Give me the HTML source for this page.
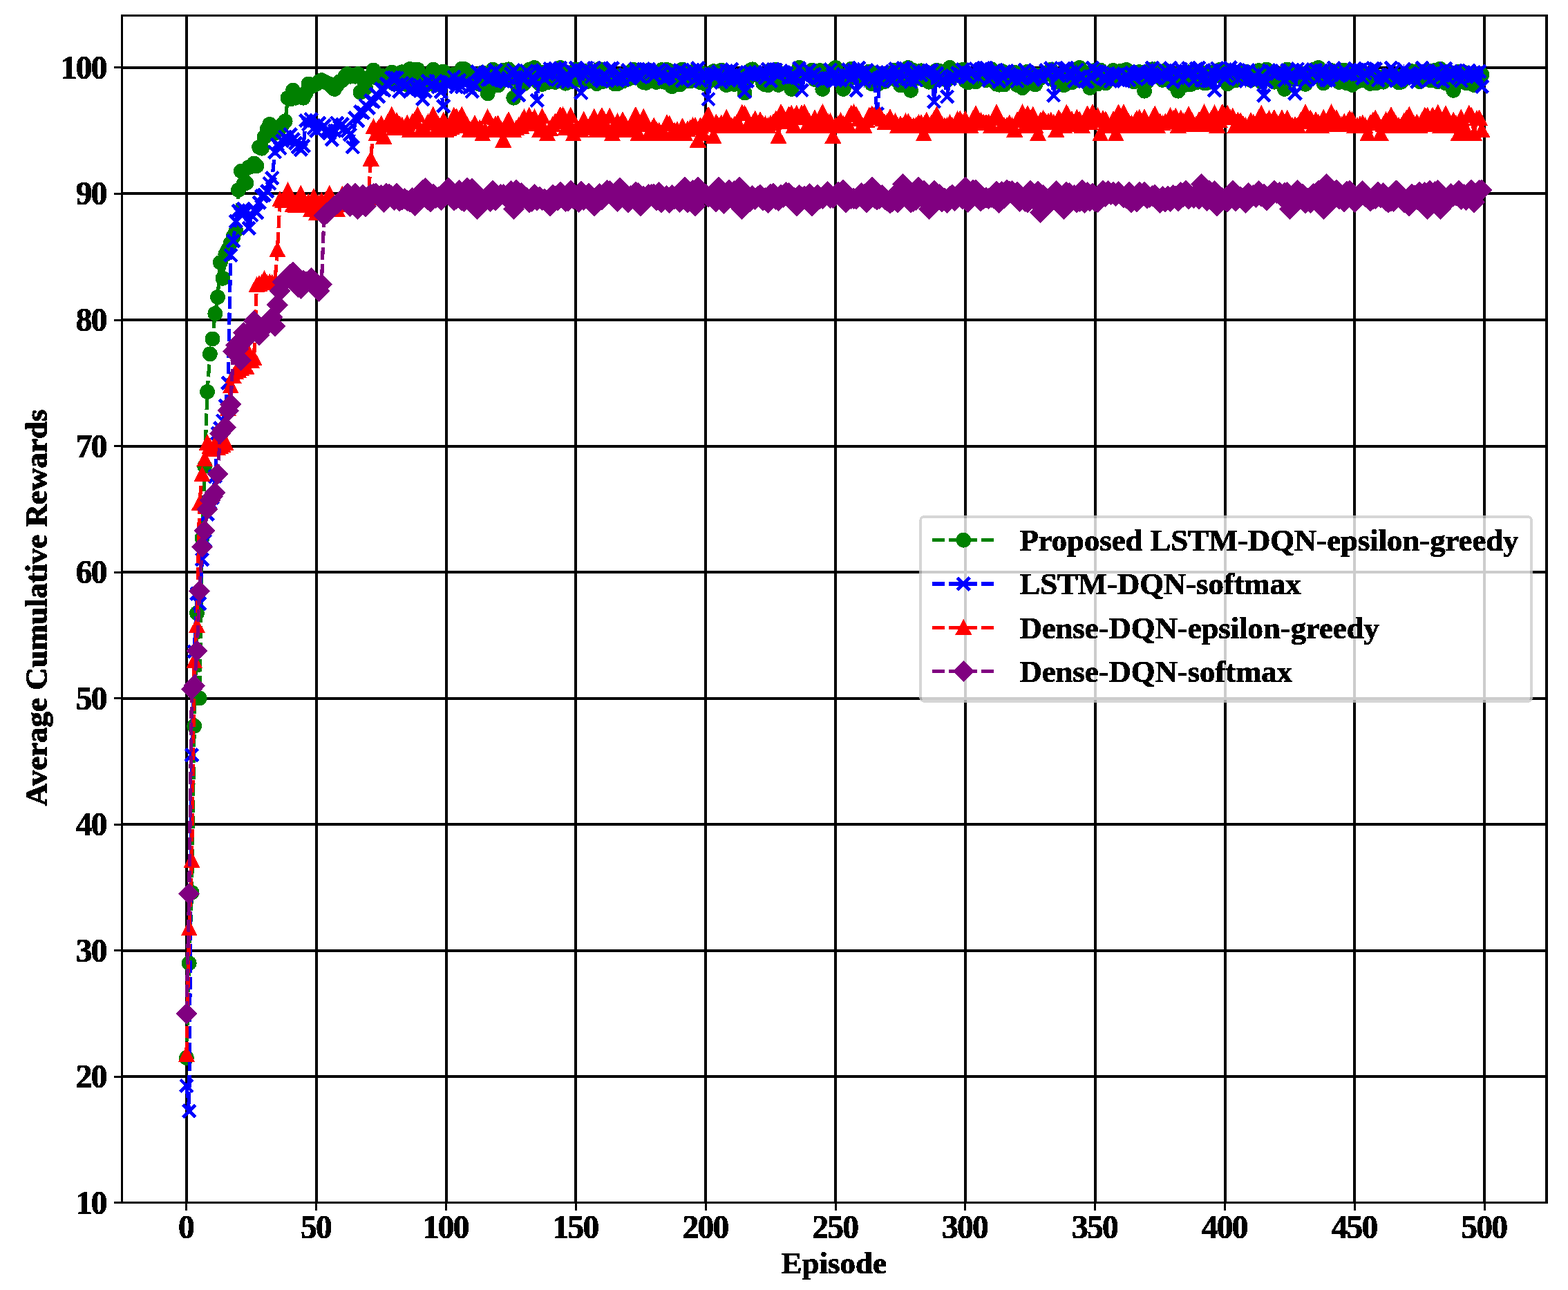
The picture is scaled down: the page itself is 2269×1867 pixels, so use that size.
<!DOCTYPE html>
<html lang="en"><head><meta charset="utf-8"><title>Average Cumulative Rewards vs Episode</title>
<style>html,body{margin:0;padding:0;background:#fff}body{width:2269px;height:1867px;overflow:hidden}svg{display:block}text{font-family:'Liberation Serif','DejaVu Serif',serif;font-weight:bold;fill:#000}</style></head><body>
<svg width="2269" height="1867" viewBox="0 0 2269 1867" shape-rendering="crispEdges">
<rect width="2269" height="1867" fill="#fff"/>
<defs>
<circle id="mo" r="10.9" fill="#008000"/>
<path id="mx" d="M-9-9L9 9M-9 9L9-9" stroke="#0000ff" stroke-width="4.8" fill="none"/>
<path id="mt" d="M0-12.6L12.1 10.7H-12.1Z" fill="#ff0000"/>
<path id="md" d="M0-15.6L15.6 0L0 15.6L-15.6 0Z" fill="#800080"/>
<filter id="bin" x="-5%" y="-5%" width="110%" height="110%" color-interpolation-filters="sRGB"><feComponentTransfer><feFuncA type="discrete" tableValues="0 1 1"/></feComponentTransfer></filter>
<clipPath id="ax"><rect x="176.5" y="22.5" width="2061.5" height="1718.0"/></clipPath>
</defs>
<g shape-rendering="crispEdges" fill="#000"><rect x="268" y="22" width="4" height="1719"/><rect x="268" y="1741" width="3" height="11"/><rect x="456" y="22" width="4" height="1719"/><rect x="456" y="1741" width="3" height="11"/><rect x="644" y="22" width="4" height="1719"/><rect x="644" y="1741" width="3" height="11"/><rect x="831" y="22" width="4" height="1719"/><rect x="832" y="1741" width="3" height="11"/><rect x="1019" y="22" width="4" height="1719"/><rect x="1020" y="1741" width="3" height="11"/><rect x="1207" y="22" width="4" height="1719"/><rect x="1208" y="1741" width="3" height="11"/><rect x="1395" y="22" width="4" height="1719"/><rect x="1395" y="1741" width="3" height="11"/><rect x="1583" y="22" width="4" height="1719"/><rect x="1583" y="1741" width="3" height="11"/><rect x="1771" y="22" width="4" height="1719"/><rect x="1771" y="1741" width="3" height="11"/><rect x="1958" y="22" width="4" height="1719"/><rect x="1959" y="1741" width="3" height="11"/><rect x="2146" y="22" width="4" height="1719"/><rect x="2147" y="1741" width="3" height="11"/><rect x="165" y="1739" width="11" height="3"/><rect x="165" y="1557" width="11" height="3"/><rect x="176" y="1556" width="2063" height="4"/><rect x="165" y="1374" width="11" height="3"/><rect x="176" y="1374" width="2063" height="4"/><rect x="165" y="1192" width="11" height="3"/><rect x="176" y="1191" width="2063" height="4"/><rect x="165" y="1009" width="11" height="3"/><rect x="176" y="1009" width="2063" height="4"/><rect x="165" y="827" width="11" height="3"/><rect x="176" y="826" width="2063" height="4"/><rect x="165" y="644" width="11" height="3"/><rect x="176" y="644" width="2063" height="4"/><rect x="165" y="462" width="11" height="3"/><rect x="176" y="461" width="2063" height="4"/><rect x="165" y="279" width="11" height="3"/><rect x="176" y="278" width="2063" height="4"/><rect x="165" y="96" width="11" height="3"/><rect x="176" y="96" width="2063" height="4"/></g>
<g clip-path="url(#ax)" shape-rendering="crispEdges">
<polyline fill="none" stroke="#008000" stroke-width="5.2" stroke-dasharray="17.9 5.8" points="269.9,1530.9 273.7,1394 277.5,1291.8 281.2,1050.8 285,887.4 288.7,1010.6 292.5,778.8 296.2,674.8 300,567.1 303.8,512.3 307.5,490.4 311.3,453.9 315,430.1 318.8,379.9 322.5,402.8 326.3,368.1 330.1,360.8 333.8,351.6 337.6,342.5 341.3,334.3 345.1,275 348.8,247.6 352.6,265.8 356.3,264.9 360.1,242.1 363.9,240.3 367.6,236.6 371.4,240.3 375.1,212.9 378.9,214.7 382.6,198.3 386.4,187.3 390.2,180 393.9,185.5 397.7,192.8 401.4,189.2 405.2,185.5 408.9,180 412.7,175.5 416.5,141.7 420.2,143.5 424,130.8 427.7,141.7 431.5,138.1 435.2,139.9 439,141.7 442.7,134.4 446.5,121.6 450.3,125.3 454,123.5 457.8,121.6 461.5,118 465.3,116.2 469,118 472.8,119.8 476.6,121.6 480.3,125.3 484.1,128.9 487.8,123.5 491.6,118 495.3,116.2 499.1,110.7 502.9,107 506.6,110.7 510.4,108.9 514.1,110.7 517.9,107 521.6,133.5 525.4,130.8 529.1,127.1 532.9,112.7 536.7,110.1 540.4,101.6 544.2,112.3 547.9,111.4 551.7,109.6 555.4,119.1 559.2,111.2 563,108.5 566.7,104.7 570.5,121.3 574.2,116.3 578,121.3 581.7,104.3 585.5,107 589.3,122.5 593,100.1 596.8,100.6 600.5,107.9 604.3,100.6 608,119.8 611.8,123.1 615.5,110.9 619.3,122 623.1,118.9 626.8,100.6 630.6,122.7 634.3,112.5 638.1,113.1 641.8,103.4 645.6,111.2 649.4,108.3 653.1,111.6 656.9,107.8 660.6,112.7 664.4,116.9 668.1,99.7 671.9,99.9 675.7,103.6 679.4,106.7 683.2,116 686.9,118 690.7,116.5 694.4,121.8 698.2,105.2 701.9,114 705.7,135.3 709.5,114.3 713.2,100.6 717,103.4 720.7,123.5 724.5,118.5 728.2,101.9 732,112.3 735.8,100.3 739.5,114 743.3,141.7 747,108.5 750.8,105 754.5,117.1 758.3,121.4 762.1,115.6 765.8,100.6 769.6,105.4 773.3,97.9 777.1,117.6 780.8,121.1 784.6,122 788.3,104.5 792.1,119.3 795.9,110.1 799.6,112.9 803.4,118.9 807.1,106.1 810.9,97.9 814.6,108.1 818.4,120.7 822.2,113.4 825.9,118.3 829.7,117.1 833.4,100.5 837.2,104.5 840.9,116.2 844.7,102.5 848.5,118.5 852.2,114.1 856,103.2 859.7,108.3 863.5,121.1 867.2,99.9 871,118.3 874.7,117.3 878.5,105.2 882.3,115.6 886,116.3 889.8,121.6 893.5,121.3 897.3,109.6 901,117.6 904.8,109.2 908.6,114.7 912.3,112.7 916.1,100.6 919.8,112 923.6,109.8 927.3,102.8 931.1,119.1 934.9,119.8 938.6,101.9 942.4,104.1 946.1,117.6 949.9,118.9 953.6,105.9 957.4,101.2 961.1,118.7 964.9,100.8 968.7,102.5 972.4,125.3 976.2,113.4 979.9,121.1 983.7,122.5 987.4,100.6 991.2,117.8 995,106.7 998.7,117.4 1002.5,103.9 1006.2,109.2 1010,116.5 1013.7,119.3 1017.5,106.3 1021.2,121.8 1025,118 1028.8,110.1 1032.5,103.2 1036.3,108.9 1040,116.9 1043.8,101.7 1047.5,118.5 1051.3,123.1 1055.1,117.1 1058.8,112.9 1062.6,122 1066.3,119.3 1070.1,114.7 1073.8,109.9 1077.6,134.4 1081.4,114.9 1085.1,102.3 1088.9,100.3 1092.6,107.9 1096.4,107 1100.1,109.6 1103.9,120.2 1107.6,122.5 1111.4,123.1 1115.2,101.9 1118.9,106.8 1122.7,100.6 1126.4,122.9 1130.2,108.3 1133.9,112 1137.7,106.1 1141.5,116 1145.2,128.9 1149,121.6 1152.7,110.5 1156.5,97.9 1160.2,102.1 1164,105.9 1167.8,106.8 1171.5,104.7 1175.3,101.7 1179,115.1 1182.8,107.2 1186.5,102.1 1190.3,128.9 1194,113.6 1197.8,104.7 1201.6,103 1205.3,109.9 1209.1,97.9 1212.8,114.3 1216.6,109.6 1220.3,128.9 1224.1,121.6 1227.9,108.3 1231.6,99.9 1235.4,102.6 1239.1,106.1 1242.9,114.3 1246.6,105.9 1250.4,109.6 1254.2,113.1 1257.9,103.6 1261.7,121.4 1265.4,105.6 1269.2,122.7 1272.9,109.2 1276.7,112 1280.4,118 1284.2,106.8 1288,111.6 1291.7,108.9 1295.5,101.6 1299.2,117.4 1303,123.3 1306.7,116.3 1310.5,107.4 1314.3,97.9 1318,130.8 1321.8,101.9 1325.5,107.8 1329.3,113.1 1333,102.3 1336.8,115.6 1340.6,107.6 1344.3,118.7 1348.1,113.2 1351.8,104.3 1355.6,101.7 1359.3,102.6 1363.1,114.3 1366.8,109.6 1370.6,116 1374.4,97.9 1378.1,111.6 1381.9,103.6 1385.6,103.4 1389.4,106.7 1393.1,100.8 1396.9,116.9 1400.7,119.4 1404.4,112.7 1408.2,116.9 1411.9,118.3 1415.7,113.6 1419.4,108.7 1423.2,111.8 1427,116 1430.7,103.6 1434.5,100.1 1438.2,112.7 1442,121.6 1445.7,122.7 1449.5,102.8 1453.2,122.5 1457,106.7 1460.8,109.9 1464.5,116.2 1468.3,104.7 1472,123.1 1475.8,120.2 1479.5,127.1 1483.3,122.9 1487.1,103.7 1490.8,117.8 1494.6,120.2 1498.3,122.4 1502.1,108.5 1505.8,112.9 1509.6,108.5 1513.4,107.9 1517.1,104.3 1520.9,100.6 1524.6,107.2 1528.4,118.7 1532.1,112.1 1535.9,119.3 1539.6,123.3 1543.4,112.3 1547.2,106.5 1550.9,119.3 1554.7,117.1 1558.4,115.2 1562.2,97.9 1565.9,111 1569.7,108.9 1573.5,105.6 1577.2,127.1 1581,104.7 1584.7,101.9 1588.5,121.4 1592.2,101.4 1596,106.3 1599.8,120.4 1603.5,112.7 1607.3,108.7 1611,101.9 1614.8,114.5 1618.5,109.9 1622.3,102.6 1626,104.5 1629.8,101 1633.6,112.5 1637.3,107.9 1641.1,118.5 1644.8,106.3 1648.6,104.1 1652.3,108.3 1656.1,131.7 1659.9,118.3 1663.6,102.1 1667.4,100.3 1671.1,100.3 1674.9,110.7 1678.6,104.7 1682.4,115.8 1686.2,101.9 1689.9,103.2 1693.7,115.2 1697.4,121.4 1701.2,113.1 1704.9,131.7 1708.7,105.2 1712.4,112 1716.2,122.7 1720,104.3 1723.7,122 1727.5,104.5 1731.2,119.4 1735,115.4 1738.7,104.8 1742.5,120.2 1746.3,120 1750,111.2 1753.8,106.3 1757.5,103.6 1761.3,107 1765,101 1768.8,111.8 1772.5,101 1776.3,121.4 1780.1,118.2 1783.8,111 1787.6,116.5 1791.3,106.1 1795.1,108.3 1798.8,111 1802.6,103.4 1806.4,110.1 1810.1,116 1813.9,114.3 1817.6,103.4 1821.4,102.1 1825.1,118.5 1828.9,103.2 1832.7,100.5 1836.4,111 1840.2,109.9 1843.9,118.7 1847.7,110.7 1851.4,111.6 1855.2,109 1858.9,128.9 1862.7,100.5 1866.5,111.2 1870.2,114 1874,104.5 1877.7,110.1 1881.5,111.8 1885.2,107 1889,121.8 1892.8,110.7 1896.5,113.6 1900.3,100.8 1904,101.6 1907.8,97.9 1911.5,112.1 1915.3,120.4 1919.1,113.2 1922.8,104.1 1926.6,102.1 1930.3,112.1 1934.1,116 1937.8,118.9 1941.6,108.9 1945.3,101.6 1949.1,120.4 1952.9,105 1956.6,122.9 1960.4,118.9 1964.1,118 1967.9,107.2 1971.6,115.8 1975.4,115.1 1979.2,108.7 1982.9,120.9 1986.7,106.1 1990.4,120.5 1994.2,111.4 1997.9,117.4 2001.7,118.7 2005.5,110.9 2009.2,113.1 2013,114.5 2016.7,113.6 2020.5,110.9 2024.2,119.6 2028,118.5 2031.7,108.5 2035.5,108.3 2039.3,110.9 2043,103.2 2046.8,108.9 2050.5,103.2 2054.3,118 2058,105.9 2061.8,104.3 2065.6,102.1 2069.3,116 2073.1,116 2076.8,101.6 2080.6,118.3 2084.3,99.7 2088.1,102.5 2091.9,120.4 2095.6,117.8 2099.4,106.3 2103.1,130.8 2106.9,121.1 2110.6,103.7 2114.4,113.4 2118.1,104.7 2121.9,120.5 2125.7,114 2129.4,107.2 2133.2,123.1 2136.9,118.7 2140.7,107.2 2144.4,107.9"/>
<use href="#mo" x="269.9" y="1530.9"/><use href="#mo" x="273.7" y="1394"/><use href="#mo" x="277.5" y="1291.8"/><use href="#mo" x="281.2" y="1050.8"/><use href="#mo" x="285" y="887.4"/><use href="#mo" x="288.7" y="1010.6"/><use href="#mo" x="292.5" y="778.8"/><use href="#mo" x="296.2" y="674.8"/><use href="#mo" x="300" y="567.1"/><use href="#mo" x="303.8" y="512.3"/><use href="#mo" x="307.5" y="490.4"/><use href="#mo" x="311.3" y="453.9"/><use href="#mo" x="315" y="430.1"/><use href="#mo" x="318.8" y="379.9"/><use href="#mo" x="322.5" y="402.8"/><use href="#mo" x="326.3" y="368.1"/><use href="#mo" x="330.1" y="360.8"/><use href="#mo" x="333.8" y="351.6"/><use href="#mo" x="337.6" y="342.5"/><use href="#mo" x="341.3" y="334.3"/><use href="#mo" x="345.1" y="275"/><use href="#mo" x="348.8" y="247.6"/><use href="#mo" x="352.6" y="265.8"/><use href="#mo" x="356.3" y="264.9"/><use href="#mo" x="360.1" y="242.1"/><use href="#mo" x="363.9" y="240.3"/><use href="#mo" x="367.6" y="236.6"/><use href="#mo" x="371.4" y="240.3"/><use href="#mo" x="375.1" y="212.9"/><use href="#mo" x="378.9" y="214.7"/><use href="#mo" x="382.6" y="198.3"/><use href="#mo" x="386.4" y="187.3"/><use href="#mo" x="390.2" y="180"/><use href="#mo" x="393.9" y="185.5"/><use href="#mo" x="397.7" y="192.8"/><use href="#mo" x="401.4" y="189.2"/><use href="#mo" x="405.2" y="185.5"/><use href="#mo" x="408.9" y="180"/><use href="#mo" x="412.7" y="175.5"/><use href="#mo" x="416.5" y="141.7"/><use href="#mo" x="420.2" y="143.5"/><use href="#mo" x="424" y="130.8"/><use href="#mo" x="427.7" y="141.7"/><use href="#mo" x="431.5" y="138.1"/><use href="#mo" x="435.2" y="139.9"/><use href="#mo" x="439" y="141.7"/><use href="#mo" x="442.7" y="134.4"/><use href="#mo" x="446.5" y="121.6"/><use href="#mo" x="450.3" y="125.3"/><use href="#mo" x="454" y="123.5"/><use href="#mo" x="457.8" y="121.6"/><use href="#mo" x="461.5" y="118"/><use href="#mo" x="465.3" y="116.2"/><use href="#mo" x="469" y="118"/><use href="#mo" x="472.8" y="119.8"/><use href="#mo" x="476.6" y="121.6"/><use href="#mo" x="480.3" y="125.3"/><use href="#mo" x="484.1" y="128.9"/><use href="#mo" x="487.8" y="123.5"/><use href="#mo" x="491.6" y="118"/><use href="#mo" x="495.3" y="116.2"/><use href="#mo" x="499.1" y="110.7"/><use href="#mo" x="502.9" y="107"/><use href="#mo" x="506.6" y="110.7"/><use href="#mo" x="510.4" y="108.9"/><use href="#mo" x="514.1" y="110.7"/><use href="#mo" x="517.9" y="107"/><use href="#mo" x="521.6" y="133.5"/><use href="#mo" x="525.4" y="130.8"/><use href="#mo" x="529.1" y="127.1"/><use href="#mo" x="532.9" y="112.7"/><use href="#mo" x="536.7" y="110.1"/><use href="#mo" x="540.4" y="101.6"/><use href="#mo" x="544.2" y="112.3"/><use href="#mo" x="547.9" y="111.4"/><use href="#mo" x="551.7" y="109.6"/><use href="#mo" x="555.4" y="119.1"/><use href="#mo" x="559.2" y="111.2"/><use href="#mo" x="563" y="108.5"/><use href="#mo" x="566.7" y="104.7"/><use href="#mo" x="570.5" y="121.3"/><use href="#mo" x="574.2" y="116.3"/><use href="#mo" x="578" y="121.3"/><use href="#mo" x="581.7" y="104.3"/><use href="#mo" x="585.5" y="107"/><use href="#mo" x="589.3" y="122.5"/><use href="#mo" x="593" y="100.1"/><use href="#mo" x="596.8" y="100.6"/><use href="#mo" x="600.5" y="107.9"/><use href="#mo" x="604.3" y="100.6"/><use href="#mo" x="608" y="119.8"/><use href="#mo" x="611.8" y="123.1"/><use href="#mo" x="615.5" y="110.9"/><use href="#mo" x="619.3" y="122"/><use href="#mo" x="623.1" y="118.9"/><use href="#mo" x="626.8" y="100.6"/><use href="#mo" x="630.6" y="122.7"/><use href="#mo" x="634.3" y="112.5"/><use href="#mo" x="638.1" y="113.1"/><use href="#mo" x="641.8" y="103.4"/><use href="#mo" x="645.6" y="111.2"/><use href="#mo" x="649.4" y="108.3"/><use href="#mo" x="653.1" y="111.6"/><use href="#mo" x="656.9" y="107.8"/><use href="#mo" x="660.6" y="112.7"/><use href="#mo" x="664.4" y="116.9"/><use href="#mo" x="668.1" y="99.7"/><use href="#mo" x="671.9" y="99.9"/><use href="#mo" x="675.7" y="103.6"/><use href="#mo" x="679.4" y="106.7"/><use href="#mo" x="683.2" y="116"/><use href="#mo" x="686.9" y="118"/><use href="#mo" x="690.7" y="116.5"/><use href="#mo" x="694.4" y="121.8"/><use href="#mo" x="698.2" y="105.2"/><use href="#mo" x="701.9" y="114"/><use href="#mo" x="705.7" y="135.3"/><use href="#mo" x="709.5" y="114.3"/><use href="#mo" x="713.2" y="100.6"/><use href="#mo" x="717" y="103.4"/><use href="#mo" x="720.7" y="123.5"/><use href="#mo" x="724.5" y="118.5"/><use href="#mo" x="728.2" y="101.9"/><use href="#mo" x="732" y="112.3"/><use href="#mo" x="735.8" y="100.3"/><use href="#mo" x="739.5" y="114"/><use href="#mo" x="743.3" y="141.7"/><use href="#mo" x="747" y="108.5"/><use href="#mo" x="750.8" y="105"/><use href="#mo" x="754.5" y="117.1"/><use href="#mo" x="758.3" y="121.4"/><use href="#mo" x="762.1" y="115.6"/><use href="#mo" x="765.8" y="100.6"/><use href="#mo" x="769.6" y="105.4"/><use href="#mo" x="773.3" y="97.9"/><use href="#mo" x="777.1" y="117.6"/><use href="#mo" x="780.8" y="121.1"/><use href="#mo" x="784.6" y="122"/><use href="#mo" x="788.3" y="104.5"/><use href="#mo" x="792.1" y="119.3"/><use href="#mo" x="795.9" y="110.1"/><use href="#mo" x="799.6" y="112.9"/><use href="#mo" x="803.4" y="118.9"/><use href="#mo" x="807.1" y="106.1"/><use href="#mo" x="810.9" y="97.9"/><use href="#mo" x="814.6" y="108.1"/><use href="#mo" x="818.4" y="120.7"/><use href="#mo" x="822.2" y="113.4"/><use href="#mo" x="825.9" y="118.3"/><use href="#mo" x="829.7" y="117.1"/><use href="#mo" x="833.4" y="100.5"/><use href="#mo" x="837.2" y="104.5"/><use href="#mo" x="840.9" y="116.2"/><use href="#mo" x="844.7" y="102.5"/><use href="#mo" x="848.5" y="118.5"/><use href="#mo" x="852.2" y="114.1"/><use href="#mo" x="856" y="103.2"/><use href="#mo" x="859.7" y="108.3"/><use href="#mo" x="863.5" y="121.1"/><use href="#mo" x="867.2" y="99.9"/><use href="#mo" x="871" y="118.3"/><use href="#mo" x="874.7" y="117.3"/><use href="#mo" x="878.5" y="105.2"/><use href="#mo" x="882.3" y="115.6"/><use href="#mo" x="886" y="116.3"/><use href="#mo" x="889.8" y="121.6"/><use href="#mo" x="893.5" y="121.3"/><use href="#mo" x="897.3" y="109.6"/><use href="#mo" x="901" y="117.6"/><use href="#mo" x="904.8" y="109.2"/><use href="#mo" x="908.6" y="114.7"/><use href="#mo" x="912.3" y="112.7"/><use href="#mo" x="916.1" y="100.6"/><use href="#mo" x="919.8" y="112"/><use href="#mo" x="923.6" y="109.8"/><use href="#mo" x="927.3" y="102.8"/><use href="#mo" x="931.1" y="119.1"/><use href="#mo" x="934.9" y="119.8"/><use href="#mo" x="938.6" y="101.9"/><use href="#mo" x="942.4" y="104.1"/><use href="#mo" x="946.1" y="117.6"/><use href="#mo" x="949.9" y="118.9"/><use href="#mo" x="953.6" y="105.9"/><use href="#mo" x="957.4" y="101.2"/><use href="#mo" x="961.1" y="118.7"/><use href="#mo" x="964.9" y="100.8"/><use href="#mo" x="968.7" y="102.5"/><use href="#mo" x="972.4" y="125.3"/><use href="#mo" x="976.2" y="113.4"/><use href="#mo" x="979.9" y="121.1"/><use href="#mo" x="983.7" y="122.5"/><use href="#mo" x="987.4" y="100.6"/><use href="#mo" x="991.2" y="117.8"/><use href="#mo" x="995" y="106.7"/><use href="#mo" x="998.7" y="117.4"/><use href="#mo" x="1002.5" y="103.9"/><use href="#mo" x="1006.2" y="109.2"/><use href="#mo" x="1010" y="116.5"/><use href="#mo" x="1013.7" y="119.3"/><use href="#mo" x="1017.5" y="106.3"/><use href="#mo" x="1021.2" y="121.8"/><use href="#mo" x="1025" y="118"/><use href="#mo" x="1028.8" y="110.1"/><use href="#mo" x="1032.5" y="103.2"/><use href="#mo" x="1036.3" y="108.9"/><use href="#mo" x="1040" y="116.9"/><use href="#mo" x="1043.8" y="101.7"/><use href="#mo" x="1047.5" y="118.5"/><use href="#mo" x="1051.3" y="123.1"/><use href="#mo" x="1055.1" y="117.1"/><use href="#mo" x="1058.8" y="112.9"/><use href="#mo" x="1062.6" y="122"/><use href="#mo" x="1066.3" y="119.3"/><use href="#mo" x="1070.1" y="114.7"/><use href="#mo" x="1073.8" y="109.9"/><use href="#mo" x="1077.6" y="134.4"/><use href="#mo" x="1081.4" y="114.9"/><use href="#mo" x="1085.1" y="102.3"/><use href="#mo" x="1088.9" y="100.3"/><use href="#mo" x="1092.6" y="107.9"/><use href="#mo" x="1096.4" y="107"/><use href="#mo" x="1100.1" y="109.6"/><use href="#mo" x="1103.9" y="120.2"/><use href="#mo" x="1107.6" y="122.5"/><use href="#mo" x="1111.4" y="123.1"/><use href="#mo" x="1115.2" y="101.9"/><use href="#mo" x="1118.9" y="106.8"/><use href="#mo" x="1122.7" y="100.6"/><use href="#mo" x="1126.4" y="122.9"/><use href="#mo" x="1130.2" y="108.3"/><use href="#mo" x="1133.9" y="112"/><use href="#mo" x="1137.7" y="106.1"/><use href="#mo" x="1141.5" y="116"/><use href="#mo" x="1145.2" y="128.9"/><use href="#mo" x="1149" y="121.6"/><use href="#mo" x="1152.7" y="110.5"/><use href="#mo" x="1156.5" y="97.9"/><use href="#mo" x="1160.2" y="102.1"/><use href="#mo" x="1164" y="105.9"/><use href="#mo" x="1167.8" y="106.8"/><use href="#mo" x="1171.5" y="104.7"/><use href="#mo" x="1175.3" y="101.7"/><use href="#mo" x="1179" y="115.1"/><use href="#mo" x="1182.8" y="107.2"/><use href="#mo" x="1186.5" y="102.1"/><use href="#mo" x="1190.3" y="128.9"/><use href="#mo" x="1194" y="113.6"/><use href="#mo" x="1197.8" y="104.7"/><use href="#mo" x="1201.6" y="103"/><use href="#mo" x="1205.3" y="109.9"/><use href="#mo" x="1209.1" y="97.9"/><use href="#mo" x="1212.8" y="114.3"/><use href="#mo" x="1216.6" y="109.6"/><use href="#mo" x="1220.3" y="128.9"/><use href="#mo" x="1224.1" y="121.6"/><use href="#mo" x="1227.9" y="108.3"/><use href="#mo" x="1231.6" y="99.9"/><use href="#mo" x="1235.4" y="102.6"/><use href="#mo" x="1239.1" y="106.1"/><use href="#mo" x="1242.9" y="114.3"/><use href="#mo" x="1246.6" y="105.9"/><use href="#mo" x="1250.4" y="109.6"/><use href="#mo" x="1254.2" y="113.1"/><use href="#mo" x="1257.9" y="103.6"/><use href="#mo" x="1261.7" y="121.4"/><use href="#mo" x="1265.4" y="105.6"/><use href="#mo" x="1269.2" y="122.7"/><use href="#mo" x="1272.9" y="109.2"/><use href="#mo" x="1276.7" y="112"/><use href="#mo" x="1280.4" y="118"/><use href="#mo" x="1284.2" y="106.8"/><use href="#mo" x="1288" y="111.6"/><use href="#mo" x="1291.7" y="108.9"/><use href="#mo" x="1295.5" y="101.6"/><use href="#mo" x="1299.2" y="117.4"/><use href="#mo" x="1303" y="123.3"/><use href="#mo" x="1306.7" y="116.3"/><use href="#mo" x="1310.5" y="107.4"/><use href="#mo" x="1314.3" y="97.9"/><use href="#mo" x="1318" y="130.8"/><use href="#mo" x="1321.8" y="101.9"/><use href="#mo" x="1325.5" y="107.8"/><use href="#mo" x="1329.3" y="113.1"/><use href="#mo" x="1333" y="102.3"/><use href="#mo" x="1336.8" y="115.6"/><use href="#mo" x="1340.6" y="107.6"/><use href="#mo" x="1344.3" y="118.7"/><use href="#mo" x="1348.1" y="113.2"/><use href="#mo" x="1351.8" y="104.3"/><use href="#mo" x="1355.6" y="101.7"/><use href="#mo" x="1359.3" y="102.6"/><use href="#mo" x="1363.1" y="114.3"/><use href="#mo" x="1366.8" y="109.6"/><use href="#mo" x="1370.6" y="116"/><use href="#mo" x="1374.4" y="97.9"/><use href="#mo" x="1378.1" y="111.6"/><use href="#mo" x="1381.9" y="103.6"/><use href="#mo" x="1385.6" y="103.4"/><use href="#mo" x="1389.4" y="106.7"/><use href="#mo" x="1393.1" y="100.8"/><use href="#mo" x="1396.9" y="116.9"/><use href="#mo" x="1400.7" y="119.4"/><use href="#mo" x="1404.4" y="112.7"/><use href="#mo" x="1408.2" y="116.9"/><use href="#mo" x="1411.9" y="118.3"/><use href="#mo" x="1415.7" y="113.6"/><use href="#mo" x="1419.4" y="108.7"/><use href="#mo" x="1423.2" y="111.8"/><use href="#mo" x="1427" y="116"/><use href="#mo" x="1430.7" y="103.6"/><use href="#mo" x="1434.5" y="100.1"/><use href="#mo" x="1438.2" y="112.7"/><use href="#mo" x="1442" y="121.6"/><use href="#mo" x="1445.7" y="122.7"/><use href="#mo" x="1449.5" y="102.8"/><use href="#mo" x="1453.2" y="122.5"/><use href="#mo" x="1457" y="106.7"/><use href="#mo" x="1460.8" y="109.9"/><use href="#mo" x="1464.5" y="116.2"/><use href="#mo" x="1468.3" y="104.7"/><use href="#mo" x="1472" y="123.1"/><use href="#mo" x="1475.8" y="120.2"/><use href="#mo" x="1479.5" y="127.1"/><use href="#mo" x="1483.3" y="122.9"/><use href="#mo" x="1487.1" y="103.7"/><use href="#mo" x="1490.8" y="117.8"/><use href="#mo" x="1494.6" y="120.2"/><use href="#mo" x="1498.3" y="122.4"/><use href="#mo" x="1502.1" y="108.5"/><use href="#mo" x="1505.8" y="112.9"/><use href="#mo" x="1509.6" y="108.5"/><use href="#mo" x="1513.4" y="107.9"/><use href="#mo" x="1517.1" y="104.3"/><use href="#mo" x="1520.9" y="100.6"/><use href="#mo" x="1524.6" y="107.2"/><use href="#mo" x="1528.4" y="118.7"/><use href="#mo" x="1532.1" y="112.1"/><use href="#mo" x="1535.9" y="119.3"/><use href="#mo" x="1539.6" y="123.3"/><use href="#mo" x="1543.4" y="112.3"/><use href="#mo" x="1547.2" y="106.5"/><use href="#mo" x="1550.9" y="119.3"/><use href="#mo" x="1554.7" y="117.1"/><use href="#mo" x="1558.4" y="115.2"/><use href="#mo" x="1562.2" y="97.9"/><use href="#mo" x="1565.9" y="111"/><use href="#mo" x="1569.7" y="108.9"/><use href="#mo" x="1573.5" y="105.6"/><use href="#mo" x="1577.2" y="127.1"/><use href="#mo" x="1581" y="104.7"/><use href="#mo" x="1584.7" y="101.9"/><use href="#mo" x="1588.5" y="121.4"/><use href="#mo" x="1592.2" y="101.4"/><use href="#mo" x="1596" y="106.3"/><use href="#mo" x="1599.8" y="120.4"/><use href="#mo" x="1603.5" y="112.7"/><use href="#mo" x="1607.3" y="108.7"/><use href="#mo" x="1611" y="101.9"/><use href="#mo" x="1614.8" y="114.5"/><use href="#mo" x="1618.5" y="109.9"/><use href="#mo" x="1622.3" y="102.6"/><use href="#mo" x="1626" y="104.5"/><use href="#mo" x="1629.8" y="101"/><use href="#mo" x="1633.6" y="112.5"/><use href="#mo" x="1637.3" y="107.9"/><use href="#mo" x="1641.1" y="118.5"/><use href="#mo" x="1644.8" y="106.3"/><use href="#mo" x="1648.6" y="104.1"/><use href="#mo" x="1652.3" y="108.3"/><use href="#mo" x="1656.1" y="131.7"/><use href="#mo" x="1659.9" y="118.3"/><use href="#mo" x="1663.6" y="102.1"/><use href="#mo" x="1667.4" y="100.3"/><use href="#mo" x="1671.1" y="100.3"/><use href="#mo" x="1674.9" y="110.7"/><use href="#mo" x="1678.6" y="104.7"/><use href="#mo" x="1682.4" y="115.8"/><use href="#mo" x="1686.2" y="101.9"/><use href="#mo" x="1689.9" y="103.2"/><use href="#mo" x="1693.7" y="115.2"/><use href="#mo" x="1697.4" y="121.4"/><use href="#mo" x="1701.2" y="113.1"/><use href="#mo" x="1704.9" y="131.7"/><use href="#mo" x="1708.7" y="105.2"/><use href="#mo" x="1712.4" y="112"/><use href="#mo" x="1716.2" y="122.7"/><use href="#mo" x="1720" y="104.3"/><use href="#mo" x="1723.7" y="122"/><use href="#mo" x="1727.5" y="104.5"/><use href="#mo" x="1731.2" y="119.4"/><use href="#mo" x="1735" y="115.4"/><use href="#mo" x="1738.7" y="104.8"/><use href="#mo" x="1742.5" y="120.2"/><use href="#mo" x="1746.3" y="120"/><use href="#mo" x="1750" y="111.2"/><use href="#mo" x="1753.8" y="106.3"/><use href="#mo" x="1757.5" y="103.6"/><use href="#mo" x="1761.3" y="107"/><use href="#mo" x="1765" y="101"/><use href="#mo" x="1768.8" y="111.8"/><use href="#mo" x="1772.5" y="101"/><use href="#mo" x="1776.3" y="121.4"/><use href="#mo" x="1780.1" y="118.2"/><use href="#mo" x="1783.8" y="111"/><use href="#mo" x="1787.6" y="116.5"/><use href="#mo" x="1791.3" y="106.1"/><use href="#mo" x="1795.1" y="108.3"/><use href="#mo" x="1798.8" y="111"/><use href="#mo" x="1802.6" y="103.4"/><use href="#mo" x="1806.4" y="110.1"/><use href="#mo" x="1810.1" y="116"/><use href="#mo" x="1813.9" y="114.3"/><use href="#mo" x="1817.6" y="103.4"/><use href="#mo" x="1821.4" y="102.1"/><use href="#mo" x="1825.1" y="118.5"/><use href="#mo" x="1828.9" y="103.2"/><use href="#mo" x="1832.7" y="100.5"/><use href="#mo" x="1836.4" y="111"/><use href="#mo" x="1840.2" y="109.9"/><use href="#mo" x="1843.9" y="118.7"/><use href="#mo" x="1847.7" y="110.7"/><use href="#mo" x="1851.4" y="111.6"/><use href="#mo" x="1855.2" y="109"/><use href="#mo" x="1858.9" y="128.9"/><use href="#mo" x="1862.7" y="100.5"/><use href="#mo" x="1866.5" y="111.2"/><use href="#mo" x="1870.2" y="114"/><use href="#mo" x="1874" y="104.5"/><use href="#mo" x="1877.7" y="110.1"/><use href="#mo" x="1881.5" y="111.8"/><use href="#mo" x="1885.2" y="107"/><use href="#mo" x="1889" y="121.8"/><use href="#mo" x="1892.8" y="110.7"/><use href="#mo" x="1896.5" y="113.6"/><use href="#mo" x="1900.3" y="100.8"/><use href="#mo" x="1904" y="101.6"/><use href="#mo" x="1907.8" y="97.9"/><use href="#mo" x="1911.5" y="112.1"/><use href="#mo" x="1915.3" y="120.4"/><use href="#mo" x="1919.1" y="113.2"/><use href="#mo" x="1922.8" y="104.1"/><use href="#mo" x="1926.6" y="102.1"/><use href="#mo" x="1930.3" y="112.1"/><use href="#mo" x="1934.1" y="116"/><use href="#mo" x="1937.8" y="118.9"/><use href="#mo" x="1941.6" y="108.9"/><use href="#mo" x="1945.3" y="101.6"/><use href="#mo" x="1949.1" y="120.4"/><use href="#mo" x="1952.9" y="105"/><use href="#mo" x="1956.6" y="122.9"/><use href="#mo" x="1960.4" y="118.9"/><use href="#mo" x="1964.1" y="118"/><use href="#mo" x="1967.9" y="107.2"/><use href="#mo" x="1971.6" y="115.8"/><use href="#mo" x="1975.4" y="115.1"/><use href="#mo" x="1979.2" y="108.7"/><use href="#mo" x="1982.9" y="120.9"/><use href="#mo" x="1986.7" y="106.1"/><use href="#mo" x="1990.4" y="120.5"/><use href="#mo" x="1994.2" y="111.4"/><use href="#mo" x="1997.9" y="117.4"/><use href="#mo" x="2001.7" y="118.7"/><use href="#mo" x="2005.5" y="110.9"/><use href="#mo" x="2009.2" y="113.1"/><use href="#mo" x="2013" y="114.5"/><use href="#mo" x="2016.7" y="113.6"/><use href="#mo" x="2020.5" y="110.9"/><use href="#mo" x="2024.2" y="119.6"/><use href="#mo" x="2028" y="118.5"/><use href="#mo" x="2031.7" y="108.5"/><use href="#mo" x="2035.5" y="108.3"/><use href="#mo" x="2039.3" y="110.9"/><use href="#mo" x="2043" y="103.2"/><use href="#mo" x="2046.8" y="108.9"/><use href="#mo" x="2050.5" y="103.2"/><use href="#mo" x="2054.3" y="118"/><use href="#mo" x="2058" y="105.9"/><use href="#mo" x="2061.8" y="104.3"/><use href="#mo" x="2065.6" y="102.1"/><use href="#mo" x="2069.3" y="116"/><use href="#mo" x="2073.1" y="116"/><use href="#mo" x="2076.8" y="101.6"/><use href="#mo" x="2080.6" y="118.3"/><use href="#mo" x="2084.3" y="99.7"/><use href="#mo" x="2088.1" y="102.5"/><use href="#mo" x="2091.9" y="120.4"/><use href="#mo" x="2095.6" y="117.8"/><use href="#mo" x="2099.4" y="106.3"/><use href="#mo" x="2103.1" y="130.8"/><use href="#mo" x="2106.9" y="121.1"/><use href="#mo" x="2110.6" y="103.7"/><use href="#mo" x="2114.4" y="113.4"/><use href="#mo" x="2118.1" y="104.7"/><use href="#mo" x="2121.9" y="120.5"/><use href="#mo" x="2125.7" y="114"/><use href="#mo" x="2129.4" y="107.2"/><use href="#mo" x="2133.2" y="123.1"/><use href="#mo" x="2136.9" y="118.7"/><use href="#mo" x="2140.7" y="107.2"/><use href="#mo" x="2144.4" y="107.9"/>
</g>
<g clip-path="url(#ax)" shape-rendering="crispEdges">
<polyline fill="none" stroke="#0000ff" stroke-width="5.2" stroke-dasharray="17.9 5.8" points="269.9,1571.4 273.7,1608.1 277.5,1092.8 281.2,943.1 285,859.1 288.7,873.7 292.5,809.8 296.2,782.5 300,744.1 303.8,727.7 307.5,720.4 311.3,689.4 315,627.3 318.8,620 322.5,609 326.3,587.1 330.1,554.3 333.8,369.4 337.6,348.7 341.3,320.6 345.1,305.1 348.8,309.7 352.6,302.4 356.3,306 360.1,330.3 363.9,311.5 367.6,304.2 371.4,307.8 375.1,293.2 378.9,284.1 382.6,282.3 386.4,276.8 390.2,265.8 393.9,257.6 397.7,220.2 401.4,209.3 405.2,214.7 408.9,203.8 412.7,198.3 416.5,203.8 420.2,194.7 424,202 427.7,207.4 431.5,212.9 435.2,216.6 439,211.1 442.7,174.6 446.5,180 450.3,172.7 454,185.5 457.8,189.2 461.5,178.2 465.3,185.5 469,181.9 472.8,189.2 476.6,192.8 480.3,202 484.1,189.2 487.8,178.2 491.6,183.7 495.3,180 499.1,185.5 502.9,189.2 506.6,194.7 510.4,212.9 514.1,170.9 517.9,174.6 521.6,161.8 525.4,163.6 529.1,152.7 532.9,156.3 536.7,145.4 540.4,147.2 544.2,136.2 547.9,139.9 551.7,128.9 555.4,130.8 559.2,121.6 563,123.5 566.7,112.5 570.5,112 574.2,113.2 578,132.4 581.7,120.4 585.5,124.4 589.3,121.8 593,131.3 596.8,129.8 600.5,123.8 604.3,129.1 608,123.6 611.8,143.5 615.5,132.4 619.3,117.6 623.1,124.4 626.8,122.2 630.6,117.1 634.3,125.8 638.1,133.1 641.8,153.6 645.6,120.4 649.4,118.7 653.1,119.6 656.9,111.4 660.6,125.8 664.4,116.3 668.1,125.6 671.9,120.9 675.7,118.7 679.4,126.9 683.2,132.4 686.9,123.1 690.7,103.7 694.4,106.5 698.2,109.6 701.9,105.4 705.7,115.1 709.5,115.1 713.2,112.1 717,101.7 720.7,114.9 724.5,116.5 728.2,116.9 732,118.2 735.8,113.1 739.5,106.8 743.3,101.7 747,112 750.8,138.1 754.5,112.9 758.3,112.5 762.1,102.6 765.8,107.4 769.6,113.4 773.3,116.7 777.1,145.4 780.8,104.1 784.6,101.6 788.3,114 792.1,107.4 795.9,99.5 799.6,106.5 803.4,99 807.1,115.4 810.9,98.4 814.6,117.8 818.4,110.1 822.2,118.3 825.9,101.9 829.7,104.5 833.4,98.4 837.2,101.9 840.9,134.4 844.7,107.6 848.5,98.1 852.2,103.2 856,111.6 859.7,98.4 863.5,111 867.2,114.9 871,117.3 874.7,109 878.5,114.7 882.3,99.4 886,99 889.8,114.3 893.5,116.7 897.3,107.8 901,115.2 904.8,107.4 908.6,101.9 912.3,113.6 916.1,109.9 919.8,99.9 923.6,109.6 927.3,111.8 931.1,100.1 934.9,101.7 938.6,100.1 942.4,104.5 946.1,110.3 949.9,104.3 953.6,101.6 957.4,105.4 961.1,114 964.9,112.7 968.7,110.3 972.4,102.6 976.2,107.2 979.9,107.4 983.7,101.6 987.4,116.7 991.2,105.6 995,112 998.7,107.2 1002.5,101.4 1006.2,113.6 1010,99 1013.7,117.3 1017.5,107 1021.2,107.6 1025,143.5 1028.8,107.2 1032.5,109 1036.3,109.4 1040,103.7 1043.8,118.9 1047.5,111 1051.3,102.5 1055.1,116 1058.8,100.6 1062.6,114.7 1066.3,104.7 1070.1,115.2 1073.8,109.4 1077.6,132.6 1081.4,117.3 1085.1,104.3 1088.9,108.9 1092.6,104.5 1096.4,107.6 1100.1,107.2 1103.9,107.8 1107.6,112.7 1111.4,100.1 1115.2,117.1 1118.9,100.5 1122.7,100.8 1126.4,108.5 1130.2,102.6 1133.9,104.8 1137.7,106.1 1141.5,112.7 1145.2,112.1 1149,111.6 1152.7,112.5 1156.5,98.8 1160.2,130.8 1164,110.7 1167.8,110.1 1171.5,101.7 1175.3,108.9 1179,107.2 1182.8,113.6 1186.5,113.1 1190.3,117.1 1194,114.3 1197.8,113.4 1201.6,101 1205.3,108.3 1209.1,116.5 1212.8,109.2 1216.6,116.3 1220.3,107 1224.1,109.6 1227.9,100.8 1231.6,113.4 1235.4,101 1239.1,130.8 1242.9,98.3 1246.6,105.6 1250.4,118 1254.2,101.9 1257.9,113.1 1261.7,111.2 1265.4,115.8 1269.2,164.5 1272.9,117.1 1276.7,103.4 1280.4,110.5 1284.2,104.7 1288,112.7 1291.7,117.3 1295.5,99.7 1299.2,105.2 1303,115.2 1306.7,98.4 1310.5,99.7 1314.3,115.1 1318,118.5 1321.8,106.1 1325.5,116 1329.3,103.6 1333,109 1336.8,103.9 1340.6,106.8 1344.3,102.6 1348.1,101.7 1351.8,147.2 1355.6,106.5 1359.3,112 1363.1,116.2 1366.8,116.9 1370.6,139.9 1374.4,114.5 1378.1,109.9 1381.9,112.3 1385.6,105.9 1389.4,107.8 1393.1,100.8 1396.9,109.8 1400.7,111.2 1404.4,105.2 1408.2,103.2 1411.9,99.5 1415.7,112.3 1419.4,100.3 1423.2,98.3 1427,98.3 1430.7,116.2 1434.5,110.9 1438.2,102.6 1442,101.4 1445.7,118 1449.5,110.7 1453.2,103.7 1457,103 1460.8,107.6 1464.5,114.5 1468.3,110.3 1472,117.6 1475.8,112.3 1479.5,109.9 1483.3,101.6 1487.1,106.5 1490.8,110.1 1494.6,113.8 1498.3,112.3 1502.1,104.8 1505.8,109.6 1509.6,115.2 1513.4,101.7 1517.1,106.8 1520.9,98.6 1524.6,138.1 1528.4,105.7 1532.1,109.9 1535.9,106.1 1539.6,99.5 1543.4,98.3 1547.2,105 1550.9,109.9 1554.7,117.6 1558.4,101.2 1562.2,110.7 1565.9,110.9 1569.7,117.6 1573.5,118.2 1577.2,110.7 1581,98.4 1584.7,103.4 1588.5,103.9 1592.2,104.8 1596,113.2 1599.8,115.4 1603.5,106.3 1607.3,117.6 1611,106.5 1614.8,108.1 1618.5,107.6 1622.3,116.3 1626,117.4 1629.8,109 1633.6,115.8 1637.3,105.4 1641.1,112.3 1644.8,105.9 1648.6,103.2 1652.3,106.1 1656.1,107.8 1659.9,114.7 1663.6,111.6 1667.4,98.4 1671.1,113.2 1674.9,112.9 1678.6,108.5 1682.4,107.4 1686.2,102.3 1689.9,112.7 1693.7,98.6 1697.4,118.3 1701.2,102.3 1704.9,106.8 1708.7,99.9 1712.4,115.6 1716.2,104.5 1720,99 1723.7,104.8 1727.5,116.5 1731.2,99.5 1735,98.4 1738.7,116.5 1742.5,101.6 1746.3,117.3 1750,117.3 1753.8,102.3 1757.5,130.8 1761.3,98.8 1765,105.6 1768.8,108.1 1772.5,113.2 1776.3,106.8 1780.1,98.1 1783.8,105.4 1787.6,100.5 1791.3,114.7 1795.1,103.4 1798.8,103.6 1802.6,117.4 1806.4,101.7 1810.1,115.2 1813.9,114.3 1817.6,117.6 1821.4,105 1825.1,116 1828.9,138.1 1832.7,118.9 1836.4,101.9 1840.2,103 1843.9,107 1847.7,106.8 1851.4,102.1 1855.2,105.6 1858.9,116 1862.7,102.1 1866.5,111.4 1870.2,106.7 1874,135.3 1877.7,99.9 1881.5,110.1 1885.2,101 1889,117.3 1892.8,112 1896.5,104.8 1900.3,106.1 1904,101.4 1907.8,114.5 1911.5,102.1 1915.3,102.3 1919.1,116 1922.8,116 1926.6,106.7 1930.3,98.4 1934.1,105.9 1937.8,109.9 1941.6,108.3 1945.3,101.9 1949.1,107.9 1952.9,107.6 1956.6,106.5 1960.4,99.4 1964.1,102.1 1967.9,101.2 1971.6,113.2 1975.4,106.3 1979.2,101.6 1982.9,103.7 1986.7,99 1990.4,99.7 1994.2,116.2 1997.9,108.3 2001.7,111.4 2005.5,114.5 2009.2,108.3 2013,98.3 2016.7,102.8 2020.5,116.9 2024.2,113.8 2028,111 2031.7,100.3 2035.5,109.2 2039.3,115.6 2043,107.4 2046.8,113.8 2050.5,118.2 2054.3,106.5 2058,98.1 2061.8,102.6 2065.6,103.4 2069.3,115.6 2073.1,107 2076.8,105.6 2080.6,103 2084.3,109.6 2088.1,117.8 2091.9,99.4 2095.6,113.2 2099.4,103.4 2103.1,109.2 2106.9,102.5 2110.6,111.8 2114.4,116.9 2118.1,109.9 2121.9,108.9 2125.7,102.3 2129.4,110.5 2133.2,104.8 2136.9,111 2140.7,103.6 2144.4,125.3"/>
<use href="#mx" x="269.9" y="1571.4"/><use href="#mx" x="273.7" y="1608.1"/><use href="#mx" x="277.5" y="1092.8"/><use href="#mx" x="281.2" y="943.1"/><use href="#mx" x="285" y="859.1"/><use href="#mx" x="288.7" y="873.7"/><use href="#mx" x="292.5" y="809.8"/><use href="#mx" x="296.2" y="782.5"/><use href="#mx" x="300" y="744.1"/><use href="#mx" x="303.8" y="727.7"/><use href="#mx" x="307.5" y="720.4"/><use href="#mx" x="311.3" y="689.4"/><use href="#mx" x="315" y="627.3"/><use href="#mx" x="318.8" y="620"/><use href="#mx" x="322.5" y="609"/><use href="#mx" x="326.3" y="587.1"/><use href="#mx" x="330.1" y="554.3"/><use href="#mx" x="333.8" y="369.4"/><use href="#mx" x="337.6" y="348.7"/><use href="#mx" x="341.3" y="320.6"/><use href="#mx" x="345.1" y="305.1"/><use href="#mx" x="348.8" y="309.7"/><use href="#mx" x="352.6" y="302.4"/><use href="#mx" x="356.3" y="306"/><use href="#mx" x="360.1" y="330.3"/><use href="#mx" x="363.9" y="311.5"/><use href="#mx" x="367.6" y="304.2"/><use href="#mx" x="371.4" y="307.8"/><use href="#mx" x="375.1" y="293.2"/><use href="#mx" x="378.9" y="284.1"/><use href="#mx" x="382.6" y="282.3"/><use href="#mx" x="386.4" y="276.8"/><use href="#mx" x="390.2" y="265.8"/><use href="#mx" x="393.9" y="257.6"/><use href="#mx" x="397.7" y="220.2"/><use href="#mx" x="401.4" y="209.3"/><use href="#mx" x="405.2" y="214.7"/><use href="#mx" x="408.9" y="203.8"/><use href="#mx" x="412.7" y="198.3"/><use href="#mx" x="416.5" y="203.8"/><use href="#mx" x="420.2" y="194.7"/><use href="#mx" x="424" y="202"/><use href="#mx" x="427.7" y="207.4"/><use href="#mx" x="431.5" y="212.9"/><use href="#mx" x="435.2" y="216.6"/><use href="#mx" x="439" y="211.1"/><use href="#mx" x="442.7" y="174.6"/><use href="#mx" x="446.5" y="180"/><use href="#mx" x="450.3" y="172.7"/><use href="#mx" x="454" y="185.5"/><use href="#mx" x="457.8" y="189.2"/><use href="#mx" x="461.5" y="178.2"/><use href="#mx" x="465.3" y="185.5"/><use href="#mx" x="469" y="181.9"/><use href="#mx" x="472.8" y="189.2"/><use href="#mx" x="476.6" y="192.8"/><use href="#mx" x="480.3" y="202"/><use href="#mx" x="484.1" y="189.2"/><use href="#mx" x="487.8" y="178.2"/><use href="#mx" x="491.6" y="183.7"/><use href="#mx" x="495.3" y="180"/><use href="#mx" x="499.1" y="185.5"/><use href="#mx" x="502.9" y="189.2"/><use href="#mx" x="506.6" y="194.7"/><use href="#mx" x="510.4" y="212.9"/><use href="#mx" x="514.1" y="170.9"/><use href="#mx" x="517.9" y="174.6"/><use href="#mx" x="521.6" y="161.8"/><use href="#mx" x="525.4" y="163.6"/><use href="#mx" x="529.1" y="152.7"/><use href="#mx" x="532.9" y="156.3"/><use href="#mx" x="536.7" y="145.4"/><use href="#mx" x="540.4" y="147.2"/><use href="#mx" x="544.2" y="136.2"/><use href="#mx" x="547.9" y="139.9"/><use href="#mx" x="551.7" y="128.9"/><use href="#mx" x="555.4" y="130.8"/><use href="#mx" x="559.2" y="121.6"/><use href="#mx" x="563" y="123.5"/><use href="#mx" x="566.7" y="112.5"/><use href="#mx" x="570.5" y="112"/><use href="#mx" x="574.2" y="113.2"/><use href="#mx" x="578" y="132.4"/><use href="#mx" x="581.7" y="120.4"/><use href="#mx" x="585.5" y="124.4"/><use href="#mx" x="589.3" y="121.8"/><use href="#mx" x="593" y="131.3"/><use href="#mx" x="596.8" y="129.8"/><use href="#mx" x="600.5" y="123.8"/><use href="#mx" x="604.3" y="129.1"/><use href="#mx" x="608" y="123.6"/><use href="#mx" x="611.8" y="143.5"/><use href="#mx" x="615.5" y="132.4"/><use href="#mx" x="619.3" y="117.6"/><use href="#mx" x="623.1" y="124.4"/><use href="#mx" x="626.8" y="122.2"/><use href="#mx" x="630.6" y="117.1"/><use href="#mx" x="634.3" y="125.8"/><use href="#mx" x="638.1" y="133.1"/><use href="#mx" x="641.8" y="153.6"/><use href="#mx" x="645.6" y="120.4"/><use href="#mx" x="649.4" y="118.7"/><use href="#mx" x="653.1" y="119.6"/><use href="#mx" x="656.9" y="111.4"/><use href="#mx" x="660.6" y="125.8"/><use href="#mx" x="664.4" y="116.3"/><use href="#mx" x="668.1" y="125.6"/><use href="#mx" x="671.9" y="120.9"/><use href="#mx" x="675.7" y="118.7"/><use href="#mx" x="679.4" y="126.9"/><use href="#mx" x="683.2" y="132.4"/><use href="#mx" x="686.9" y="123.1"/><use href="#mx" x="690.7" y="103.7"/><use href="#mx" x="694.4" y="106.5"/><use href="#mx" x="698.2" y="109.6"/><use href="#mx" x="701.9" y="105.4"/><use href="#mx" x="705.7" y="115.1"/><use href="#mx" x="709.5" y="115.1"/><use href="#mx" x="713.2" y="112.1"/><use href="#mx" x="717" y="101.7"/><use href="#mx" x="720.7" y="114.9"/><use href="#mx" x="724.5" y="116.5"/><use href="#mx" x="728.2" y="116.9"/><use href="#mx" x="732" y="118.2"/><use href="#mx" x="735.8" y="113.1"/><use href="#mx" x="739.5" y="106.8"/><use href="#mx" x="743.3" y="101.7"/><use href="#mx" x="747" y="112"/><use href="#mx" x="750.8" y="138.1"/><use href="#mx" x="754.5" y="112.9"/><use href="#mx" x="758.3" y="112.5"/><use href="#mx" x="762.1" y="102.6"/><use href="#mx" x="765.8" y="107.4"/><use href="#mx" x="769.6" y="113.4"/><use href="#mx" x="773.3" y="116.7"/><use href="#mx" x="777.1" y="145.4"/><use href="#mx" x="780.8" y="104.1"/><use href="#mx" x="784.6" y="101.6"/><use href="#mx" x="788.3" y="114"/><use href="#mx" x="792.1" y="107.4"/><use href="#mx" x="795.9" y="99.5"/><use href="#mx" x="799.6" y="106.5"/><use href="#mx" x="803.4" y="99"/><use href="#mx" x="807.1" y="115.4"/><use href="#mx" x="810.9" y="98.4"/><use href="#mx" x="814.6" y="117.8"/><use href="#mx" x="818.4" y="110.1"/><use href="#mx" x="822.2" y="118.3"/><use href="#mx" x="825.9" y="101.9"/><use href="#mx" x="829.7" y="104.5"/><use href="#mx" x="833.4" y="98.4"/><use href="#mx" x="837.2" y="101.9"/><use href="#mx" x="840.9" y="134.4"/><use href="#mx" x="844.7" y="107.6"/><use href="#mx" x="848.5" y="98.1"/><use href="#mx" x="852.2" y="103.2"/><use href="#mx" x="856" y="111.6"/><use href="#mx" x="859.7" y="98.4"/><use href="#mx" x="863.5" y="111"/><use href="#mx" x="867.2" y="114.9"/><use href="#mx" x="871" y="117.3"/><use href="#mx" x="874.7" y="109"/><use href="#mx" x="878.5" y="114.7"/><use href="#mx" x="882.3" y="99.4"/><use href="#mx" x="886" y="99"/><use href="#mx" x="889.8" y="114.3"/><use href="#mx" x="893.5" y="116.7"/><use href="#mx" x="897.3" y="107.8"/><use href="#mx" x="901" y="115.2"/><use href="#mx" x="904.8" y="107.4"/><use href="#mx" x="908.6" y="101.9"/><use href="#mx" x="912.3" y="113.6"/><use href="#mx" x="916.1" y="109.9"/><use href="#mx" x="919.8" y="99.9"/><use href="#mx" x="923.6" y="109.6"/><use href="#mx" x="927.3" y="111.8"/><use href="#mx" x="931.1" y="100.1"/><use href="#mx" x="934.9" y="101.7"/><use href="#mx" x="938.6" y="100.1"/><use href="#mx" x="942.4" y="104.5"/><use href="#mx" x="946.1" y="110.3"/><use href="#mx" x="949.9" y="104.3"/><use href="#mx" x="953.6" y="101.6"/><use href="#mx" x="957.4" y="105.4"/><use href="#mx" x="961.1" y="114"/><use href="#mx" x="964.9" y="112.7"/><use href="#mx" x="968.7" y="110.3"/><use href="#mx" x="972.4" y="102.6"/><use href="#mx" x="976.2" y="107.2"/><use href="#mx" x="979.9" y="107.4"/><use href="#mx" x="983.7" y="101.6"/><use href="#mx" x="987.4" y="116.7"/><use href="#mx" x="991.2" y="105.6"/><use href="#mx" x="995" y="112"/><use href="#mx" x="998.7" y="107.2"/><use href="#mx" x="1002.5" y="101.4"/><use href="#mx" x="1006.2" y="113.6"/><use href="#mx" x="1010" y="99"/><use href="#mx" x="1013.7" y="117.3"/><use href="#mx" x="1017.5" y="107"/><use href="#mx" x="1021.2" y="107.6"/><use href="#mx" x="1025" y="143.5"/><use href="#mx" x="1028.8" y="107.2"/><use href="#mx" x="1032.5" y="109"/><use href="#mx" x="1036.3" y="109.4"/><use href="#mx" x="1040" y="103.7"/><use href="#mx" x="1043.8" y="118.9"/><use href="#mx" x="1047.5" y="111"/><use href="#mx" x="1051.3" y="102.5"/><use href="#mx" x="1055.1" y="116"/><use href="#mx" x="1058.8" y="100.6"/><use href="#mx" x="1062.6" y="114.7"/><use href="#mx" x="1066.3" y="104.7"/><use href="#mx" x="1070.1" y="115.2"/><use href="#mx" x="1073.8" y="109.4"/><use href="#mx" x="1077.6" y="132.6"/><use href="#mx" x="1081.4" y="117.3"/><use href="#mx" x="1085.1" y="104.3"/><use href="#mx" x="1088.9" y="108.9"/><use href="#mx" x="1092.6" y="104.5"/><use href="#mx" x="1096.4" y="107.6"/><use href="#mx" x="1100.1" y="107.2"/><use href="#mx" x="1103.9" y="107.8"/><use href="#mx" x="1107.6" y="112.7"/><use href="#mx" x="1111.4" y="100.1"/><use href="#mx" x="1115.2" y="117.1"/><use href="#mx" x="1118.9" y="100.5"/><use href="#mx" x="1122.7" y="100.8"/><use href="#mx" x="1126.4" y="108.5"/><use href="#mx" x="1130.2" y="102.6"/><use href="#mx" x="1133.9" y="104.8"/><use href="#mx" x="1137.7" y="106.1"/><use href="#mx" x="1141.5" y="112.7"/><use href="#mx" x="1145.2" y="112.1"/><use href="#mx" x="1149" y="111.6"/><use href="#mx" x="1152.7" y="112.5"/><use href="#mx" x="1156.5" y="98.8"/><use href="#mx" x="1160.2" y="130.8"/><use href="#mx" x="1164" y="110.7"/><use href="#mx" x="1167.8" y="110.1"/><use href="#mx" x="1171.5" y="101.7"/><use href="#mx" x="1175.3" y="108.9"/><use href="#mx" x="1179" y="107.2"/><use href="#mx" x="1182.8" y="113.6"/><use href="#mx" x="1186.5" y="113.1"/><use href="#mx" x="1190.3" y="117.1"/><use href="#mx" x="1194" y="114.3"/><use href="#mx" x="1197.8" y="113.4"/><use href="#mx" x="1201.6" y="101"/><use href="#mx" x="1205.3" y="108.3"/><use href="#mx" x="1209.1" y="116.5"/><use href="#mx" x="1212.8" y="109.2"/><use href="#mx" x="1216.6" y="116.3"/><use href="#mx" x="1220.3" y="107"/><use href="#mx" x="1224.1" y="109.6"/><use href="#mx" x="1227.9" y="100.8"/><use href="#mx" x="1231.6" y="113.4"/><use href="#mx" x="1235.4" y="101"/><use href="#mx" x="1239.1" y="130.8"/><use href="#mx" x="1242.9" y="98.3"/><use href="#mx" x="1246.6" y="105.6"/><use href="#mx" x="1250.4" y="118"/><use href="#mx" x="1254.2" y="101.9"/><use href="#mx" x="1257.9" y="113.1"/><use href="#mx" x="1261.7" y="111.2"/><use href="#mx" x="1265.4" y="115.8"/><use href="#mx" x="1269.2" y="164.5"/><use href="#mx" x="1272.9" y="117.1"/><use href="#mx" x="1276.7" y="103.4"/><use href="#mx" x="1280.4" y="110.5"/><use href="#mx" x="1284.2" y="104.7"/><use href="#mx" x="1288" y="112.7"/><use href="#mx" x="1291.7" y="117.3"/><use href="#mx" x="1295.5" y="99.7"/><use href="#mx" x="1299.2" y="105.2"/><use href="#mx" x="1303" y="115.2"/><use href="#mx" x="1306.7" y="98.4"/><use href="#mx" x="1310.5" y="99.7"/><use href="#mx" x="1314.3" y="115.1"/><use href="#mx" x="1318" y="118.5"/><use href="#mx" x="1321.8" y="106.1"/><use href="#mx" x="1325.5" y="116"/><use href="#mx" x="1329.3" y="103.6"/><use href="#mx" x="1333" y="109"/><use href="#mx" x="1336.8" y="103.9"/><use href="#mx" x="1340.6" y="106.8"/><use href="#mx" x="1344.3" y="102.6"/><use href="#mx" x="1348.1" y="101.7"/><use href="#mx" x="1351.8" y="147.2"/><use href="#mx" x="1355.6" y="106.5"/><use href="#mx" x="1359.3" y="112"/><use href="#mx" x="1363.1" y="116.2"/><use href="#mx" x="1366.8" y="116.9"/><use href="#mx" x="1370.6" y="139.9"/><use href="#mx" x="1374.4" y="114.5"/><use href="#mx" x="1378.1" y="109.9"/><use href="#mx" x="1381.9" y="112.3"/><use href="#mx" x="1385.6" y="105.9"/><use href="#mx" x="1389.4" y="107.8"/><use href="#mx" x="1393.1" y="100.8"/><use href="#mx" x="1396.9" y="109.8"/><use href="#mx" x="1400.7" y="111.2"/><use href="#mx" x="1404.4" y="105.2"/><use href="#mx" x="1408.2" y="103.2"/><use href="#mx" x="1411.9" y="99.5"/><use href="#mx" x="1415.7" y="112.3"/><use href="#mx" x="1419.4" y="100.3"/><use href="#mx" x="1423.2" y="98.3"/><use href="#mx" x="1427" y="98.3"/><use href="#mx" x="1430.7" y="116.2"/><use href="#mx" x="1434.5" y="110.9"/><use href="#mx" x="1438.2" y="102.6"/><use href="#mx" x="1442" y="101.4"/><use href="#mx" x="1445.7" y="118"/><use href="#mx" x="1449.5" y="110.7"/><use href="#mx" x="1453.2" y="103.7"/><use href="#mx" x="1457" y="103"/><use href="#mx" x="1460.8" y="107.6"/><use href="#mx" x="1464.5" y="114.5"/><use href="#mx" x="1468.3" y="110.3"/><use href="#mx" x="1472" y="117.6"/><use href="#mx" x="1475.8" y="112.3"/><use href="#mx" x="1479.5" y="109.9"/><use href="#mx" x="1483.3" y="101.6"/><use href="#mx" x="1487.1" y="106.5"/><use href="#mx" x="1490.8" y="110.1"/><use href="#mx" x="1494.6" y="113.8"/><use href="#mx" x="1498.3" y="112.3"/><use href="#mx" x="1502.1" y="104.8"/><use href="#mx" x="1505.8" y="109.6"/><use href="#mx" x="1509.6" y="115.2"/><use href="#mx" x="1513.4" y="101.7"/><use href="#mx" x="1517.1" y="106.8"/><use href="#mx" x="1520.9" y="98.6"/><use href="#mx" x="1524.6" y="138.1"/><use href="#mx" x="1528.4" y="105.7"/><use href="#mx" x="1532.1" y="109.9"/><use href="#mx" x="1535.9" y="106.1"/><use href="#mx" x="1539.6" y="99.5"/><use href="#mx" x="1543.4" y="98.3"/><use href="#mx" x="1547.2" y="105"/><use href="#mx" x="1550.9" y="109.9"/><use href="#mx" x="1554.7" y="117.6"/><use href="#mx" x="1558.4" y="101.2"/><use href="#mx" x="1562.2" y="110.7"/><use href="#mx" x="1565.9" y="110.9"/><use href="#mx" x="1569.7" y="117.6"/><use href="#mx" x="1573.5" y="118.2"/><use href="#mx" x="1577.2" y="110.7"/><use href="#mx" x="1581" y="98.4"/><use href="#mx" x="1584.7" y="103.4"/><use href="#mx" x="1588.5" y="103.9"/><use href="#mx" x="1592.2" y="104.8"/><use href="#mx" x="1596" y="113.2"/><use href="#mx" x="1599.8" y="115.4"/><use href="#mx" x="1603.5" y="106.3"/><use href="#mx" x="1607.3" y="117.6"/><use href="#mx" x="1611" y="106.5"/><use href="#mx" x="1614.8" y="108.1"/><use href="#mx" x="1618.5" y="107.6"/><use href="#mx" x="1622.3" y="116.3"/><use href="#mx" x="1626" y="117.4"/><use href="#mx" x="1629.8" y="109"/><use href="#mx" x="1633.6" y="115.8"/><use href="#mx" x="1637.3" y="105.4"/><use href="#mx" x="1641.1" y="112.3"/><use href="#mx" x="1644.8" y="105.9"/><use href="#mx" x="1648.6" y="103.2"/><use href="#mx" x="1652.3" y="106.1"/><use href="#mx" x="1656.1" y="107.8"/><use href="#mx" x="1659.9" y="114.7"/><use href="#mx" x="1663.6" y="111.6"/><use href="#mx" x="1667.4" y="98.4"/><use href="#mx" x="1671.1" y="113.2"/><use href="#mx" x="1674.9" y="112.9"/><use href="#mx" x="1678.6" y="108.5"/><use href="#mx" x="1682.4" y="107.4"/><use href="#mx" x="1686.2" y="102.3"/><use href="#mx" x="1689.9" y="112.7"/><use href="#mx" x="1693.7" y="98.6"/><use href="#mx" x="1697.4" y="118.3"/><use href="#mx" x="1701.2" y="102.3"/><use href="#mx" x="1704.9" y="106.8"/><use href="#mx" x="1708.7" y="99.9"/><use href="#mx" x="1712.4" y="115.6"/><use href="#mx" x="1716.2" y="104.5"/><use href="#mx" x="1720" y="99"/><use href="#mx" x="1723.7" y="104.8"/><use href="#mx" x="1727.5" y="116.5"/><use href="#mx" x="1731.2" y="99.5"/><use href="#mx" x="1735" y="98.4"/><use href="#mx" x="1738.7" y="116.5"/><use href="#mx" x="1742.5" y="101.6"/><use href="#mx" x="1746.3" y="117.3"/><use href="#mx" x="1750" y="117.3"/><use href="#mx" x="1753.8" y="102.3"/><use href="#mx" x="1757.5" y="130.8"/><use href="#mx" x="1761.3" y="98.8"/><use href="#mx" x="1765" y="105.6"/><use href="#mx" x="1768.8" y="108.1"/><use href="#mx" x="1772.5" y="113.2"/><use href="#mx" x="1776.3" y="106.8"/><use href="#mx" x="1780.1" y="98.1"/><use href="#mx" x="1783.8" y="105.4"/><use href="#mx" x="1787.6" y="100.5"/><use href="#mx" x="1791.3" y="114.7"/><use href="#mx" x="1795.1" y="103.4"/><use href="#mx" x="1798.8" y="103.6"/><use href="#mx" x="1802.6" y="117.4"/><use href="#mx" x="1806.4" y="101.7"/><use href="#mx" x="1810.1" y="115.2"/><use href="#mx" x="1813.9" y="114.3"/><use href="#mx" x="1817.6" y="117.6"/><use href="#mx" x="1821.4" y="105"/><use href="#mx" x="1825.1" y="116"/><use href="#mx" x="1828.9" y="138.1"/><use href="#mx" x="1832.7" y="118.9"/><use href="#mx" x="1836.4" y="101.9"/><use href="#mx" x="1840.2" y="103"/><use href="#mx" x="1843.9" y="107"/><use href="#mx" x="1847.7" y="106.8"/><use href="#mx" x="1851.4" y="102.1"/><use href="#mx" x="1855.2" y="105.6"/><use href="#mx" x="1858.9" y="116"/><use href="#mx" x="1862.7" y="102.1"/><use href="#mx" x="1866.5" y="111.4"/><use href="#mx" x="1870.2" y="106.7"/><use href="#mx" x="1874" y="135.3"/><use href="#mx" x="1877.7" y="99.9"/><use href="#mx" x="1881.5" y="110.1"/><use href="#mx" x="1885.2" y="101"/><use href="#mx" x="1889" y="117.3"/><use href="#mx" x="1892.8" y="112"/><use href="#mx" x="1896.5" y="104.8"/><use href="#mx" x="1900.3" y="106.1"/><use href="#mx" x="1904" y="101.4"/><use href="#mx" x="1907.8" y="114.5"/><use href="#mx" x="1911.5" y="102.1"/><use href="#mx" x="1915.3" y="102.3"/><use href="#mx" x="1919.1" y="116"/><use href="#mx" x="1922.8" y="116"/><use href="#mx" x="1926.6" y="106.7"/><use href="#mx" x="1930.3" y="98.4"/><use href="#mx" x="1934.1" y="105.9"/><use href="#mx" x="1937.8" y="109.9"/><use href="#mx" x="1941.6" y="108.3"/><use href="#mx" x="1945.3" y="101.9"/><use href="#mx" x="1949.1" y="107.9"/><use href="#mx" x="1952.9" y="107.6"/><use href="#mx" x="1956.6" y="106.5"/><use href="#mx" x="1960.4" y="99.4"/><use href="#mx" x="1964.1" y="102.1"/><use href="#mx" x="1967.9" y="101.2"/><use href="#mx" x="1971.6" y="113.2"/><use href="#mx" x="1975.4" y="106.3"/><use href="#mx" x="1979.2" y="101.6"/><use href="#mx" x="1982.9" y="103.7"/><use href="#mx" x="1986.7" y="99"/><use href="#mx" x="1990.4" y="99.7"/><use href="#mx" x="1994.2" y="116.2"/><use href="#mx" x="1997.9" y="108.3"/><use href="#mx" x="2001.7" y="111.4"/><use href="#mx" x="2005.5" y="114.5"/><use href="#mx" x="2009.2" y="108.3"/><use href="#mx" x="2013" y="98.3"/><use href="#mx" x="2016.7" y="102.8"/><use href="#mx" x="2020.5" y="116.9"/><use href="#mx" x="2024.2" y="113.8"/><use href="#mx" x="2028" y="111"/><use href="#mx" x="2031.7" y="100.3"/><use href="#mx" x="2035.5" y="109.2"/><use href="#mx" x="2039.3" y="115.6"/><use href="#mx" x="2043" y="107.4"/><use href="#mx" x="2046.8" y="113.8"/><use href="#mx" x="2050.5" y="118.2"/><use href="#mx" x="2054.3" y="106.5"/><use href="#mx" x="2058" y="98.1"/><use href="#mx" x="2061.8" y="102.6"/><use href="#mx" x="2065.6" y="103.4"/><use href="#mx" x="2069.3" y="115.6"/><use href="#mx" x="2073.1" y="107"/><use href="#mx" x="2076.8" y="105.6"/><use href="#mx" x="2080.6" y="103"/><use href="#mx" x="2084.3" y="109.6"/><use href="#mx" x="2088.1" y="117.8"/><use href="#mx" x="2091.9" y="99.4"/><use href="#mx" x="2095.6" y="113.2"/><use href="#mx" x="2099.4" y="103.4"/><use href="#mx" x="2103.1" y="109.2"/><use href="#mx" x="2106.9" y="102.5"/><use href="#mx" x="2110.6" y="111.8"/><use href="#mx" x="2114.4" y="116.9"/><use href="#mx" x="2118.1" y="109.9"/><use href="#mx" x="2121.9" y="108.9"/><use href="#mx" x="2125.7" y="102.3"/><use href="#mx" x="2129.4" y="110.5"/><use href="#mx" x="2133.2" y="104.8"/><use href="#mx" x="2136.9" y="111"/><use href="#mx" x="2140.7" y="103.6"/><use href="#mx" x="2144.4" y="125.3"/>
</g>
<g clip-path="url(#ax)" shape-rendering="crispEdges">
<polyline fill="none" stroke="#ff0000" stroke-width="5.2" stroke-dasharray="17.9 5.8" points="269.9,1526.2 273.7,1343.7 277.5,1245.1 281.2,956.7 285,905.6 288.7,728.5 292.5,686.5 296.2,664.6 300,640.9 303.8,646.3 307.5,650 311.3,642.7 315,648.2 318.8,646.3 322.5,644.5 326.3,640.9 330.1,591.6 333.8,558.7 337.6,544.1 341.3,538.6 345.1,536.8 348.8,533.2 352.6,531.3 356.3,531.3 360.1,511.3 363.9,522.2 367.6,518.6 371.4,412.7 375.1,410.9 378.9,409 382.6,403.6 386.4,409 390.2,407.9 393.9,409 397.7,409 401.4,361.6 405.2,288.6 408.9,290.4 412.7,286.7 416.5,275.8 420.2,290.4 424,295.9 427.7,297.7 431.5,294 435.2,280.3 439,297.7 442.7,295.9 446.5,292.2 450.3,303.2 454,284.9 457.8,308.6 461.5,294 465.3,290.4 469,295.9 472.8,288.6 476.6,280.3 480.3,294 484.1,301.3 487.8,303.2 491.6,295.9 495.3,281.2 499.1,290.4 502.9,292.2 506.6,288.6 510.4,294 514.1,290.4 517.9,286.7 521.6,292.2 525.4,288.6 529.1,290.4 532.9,288.6 536.7,230.1 540.4,183.6 544.2,193.6 547.9,184.5 551.7,179 555.4,198 559.2,180.8 563,175.4 566.7,166.2 570.5,185 574.2,174.8 578,179.2 581.7,181.2 585.5,184.9 589.3,178.1 593,188.7 596.8,176.3 600.5,173.2 604.3,166.2 608,188.7 611.8,188.7 615.5,188.7 619.3,176.6 623.1,178.7 626.8,166.2 630.6,188.7 634.3,183.4 638.1,186.1 641.8,173.9 645.6,188.7 649.4,186 653.1,184.1 656.9,167 660.6,169 664.4,176.8 668.1,166.2 671.9,182.5 675.7,179.8 679.4,188.7 683.2,185.6 686.9,178.7 690.7,188.7 694.4,185 698.2,193.6 701.9,188.7 705.7,169.7 709.5,188.7 713.2,183 717,179.8 720.7,178.8 724.5,188.7 728.2,202.8 732,180.5 735.8,173.7 739.5,188.7 743.3,188.7 747,185.6 750.8,180.8 754.5,183.6 758.3,169.7 762.1,176.6 765.8,167.2 769.6,178.8 773.3,169.7 777.1,177 780.8,188.7 784.6,168.6 788.3,188.7 792.1,193.6 795.9,186 799.6,180.3 803.4,175.9 807.1,173.2 810.9,166.4 814.6,166.4 818.4,185.4 822.2,177.9 825.9,167.3 829.7,193.6 833.4,185.8 837.2,188.7 840.9,188.7 844.7,173.4 848.5,185 852.2,184 856,177 859.7,169.2 863.5,188.7 867.2,185.2 871,167.3 874.7,188.7 878.5,185 882.3,168.4 886,193.6 889.8,181.8 893.5,175.6 897.3,188.7 901,173.4 904.8,188.7 908.6,188.7 912.3,185.6 916.1,175.4 919.8,166.6 923.6,193.6 927.3,177.6 931.1,169.3 934.9,180.1 938.6,193.6 942.4,193.6 946.1,182.1 949.9,187.6 953.6,189.2 957.4,193.6 961.1,193.6 964.9,177.9 968.7,179 972.4,193.6 976.2,189.4 979.9,187.8 983.7,193.6 987.4,182.9 991.2,193.6 995,187.1 998.7,185.2 1002.5,181.9 1006.2,181.8 1010,202.8 1013.7,181.8 1017.5,193.6 1021.2,176.1 1025,166.2 1028.8,180.1 1032.5,197.3 1036.3,176.8 1040,181.8 1043.8,178.1 1047.5,181.8 1051.3,170.4 1055.1,179.4 1058.8,181.8 1062.6,180.1 1066.3,181.8 1070.1,181.8 1073.8,163.1 1077.6,164.4 1081.4,181.8 1085.1,181.8 1088.9,180.5 1092.6,172.1 1096.4,181.8 1100.1,173.9 1103.9,179.2 1107.6,179.9 1111.4,181.8 1115.2,178.7 1118.9,177 1122.7,171.9 1126.4,197.3 1130.2,162.6 1133.9,172.3 1137.7,176.3 1141.5,166.1 1145.2,164.4 1149,181.8 1152.7,163.9 1156.5,170.4 1160.2,163.7 1164,162.6 1167.8,181.8 1171.5,180.8 1175.3,179 1179,170.8 1182.8,181.8 1186.5,177.7 1190.3,162.6 1194,181.8 1197.8,175.7 1201.6,175.9 1205.3,197.3 1209.1,181.8 1212.8,179.4 1216.6,174.6 1220.3,179.2 1224.1,179.6 1227.9,181.8 1231.6,164.1 1235.4,162.6 1239.1,166.2 1242.9,172.3 1246.6,181.8 1250.4,181.8 1254.2,174.3 1257.9,167.2 1261.7,165 1265.4,167.2 1269.2,169.9 1272.9,166.2 1276.7,172.6 1280.4,177.7 1284.2,175.7 1288,169.9 1291.7,177 1295.5,175.9 1299.2,181.8 1303,179.6 1306.7,181.8 1310.5,175.7 1314.3,175.9 1318,181.8 1321.8,181.8 1325.5,181.8 1329.3,177.6 1333,177.4 1336.8,193.6 1340.6,174.1 1344.3,181.8 1348.1,177.7 1351.8,171.9 1355.6,165.9 1359.3,174.8 1363.1,179.9 1366.8,181.8 1370.6,181.8 1374.4,177.6 1378.1,181.8 1381.9,181.8 1385.6,172.5 1389.4,172.1 1393.1,180.3 1396.9,172.3 1400.7,181.8 1404.4,181.8 1408.2,178.5 1411.9,164.6 1415.7,178.1 1419.4,174.8 1423.2,177.2 1427,177.2 1430.7,177.4 1434.5,181.8 1438.2,171 1442,163 1445.7,170.4 1449.5,181.8 1453.2,181.8 1457,181.8 1460.8,178.1 1464.5,181.8 1468.3,188.1 1472,173.9 1475.8,174.1 1479.5,162.6 1483.3,181.8 1487.1,164.6 1490.8,179.2 1494.6,166.1 1498.3,181.8 1502.1,193.6 1505.8,173.9 1509.6,171.4 1513.4,176.8 1517.1,175.4 1520.9,174.1 1524.6,177.2 1528.4,188.1 1532.1,170.4 1535.9,177 1539.6,181.8 1543.4,163 1547.2,171.2 1550.9,172.8 1554.7,180.5 1558.4,170.1 1562.2,173.5 1565.9,181.8 1569.7,176.6 1573.5,165.1 1577.2,177.2 1581,162.6 1584.7,174.1 1588.5,167.5 1592.2,193.6 1596,172.1 1599.8,172.8 1603.5,181.8 1607.3,181.8 1611,172.8 1614.8,193.6 1618.5,163.1 1622.3,181.8 1626,162.6 1629.8,175.2 1633.6,181.8 1637.3,178.7 1641.1,181.8 1644.8,171.7 1648.6,170.1 1652.3,181.8 1656.1,169.9 1659.9,181.8 1663.6,181.8 1667.4,178.1 1671.1,165.1 1674.9,181.8 1678.6,176.3 1682.4,178.7 1686.2,176.3 1689.9,175.9 1693.7,167.7 1697.4,171.7 1701.2,167.9 1704.9,181.8 1708.7,171.4 1712.4,175.6 1716.2,175.2 1720,165.5 1723.7,178.8 1727.5,179.8 1731.2,179.8 1735,173.7 1738.7,174.5 1742.5,162.6 1746.3,180.5 1750,176.8 1753.8,180.3 1757.5,163.5 1761.3,181.8 1765,174.5 1768.8,162.6 1772.5,167.3 1776.3,164.1 1780.1,169.9 1783.8,168.1 1787.6,181.8 1791.3,174.5 1795.1,175 1798.8,179.6 1802.6,181.8 1806.4,181.8 1810.1,174.8 1813.9,177 1817.6,179.6 1821.4,181.8 1825.1,164.2 1828.9,181.8 1832.7,177.6 1836.4,171.5 1840.2,180.7 1843.9,170.4 1847.7,177.2 1851.4,181.8 1855.2,170.8 1858.9,178.1 1862.7,171 1866.5,181.8 1870.2,181.8 1874,180.5 1877.7,181.8 1881.5,175.9 1885.2,173.5 1889,162.6 1892.8,171.2 1896.5,171.2 1900.3,181.8 1904,173.9 1907.8,177.4 1911.5,181.8 1915.3,170.4 1919.1,180.1 1922.8,180.7 1926.6,162.6 1930.3,170.6 1934.1,170.6 1937.8,179 1941.6,180.1 1945.3,176.5 1949.1,179 1952.9,171.5 1956.6,173.4 1960.4,181.8 1964.1,181.8 1967.9,179.8 1971.6,178.3 1975.4,181.8 1979.2,193.6 1982.9,177.9 1986.7,174.1 1990.4,171.2 1994.2,177.9 1997.9,193.6 2001.7,179.9 2005.5,173.5 2009.2,181.8 2013,166.4 2016.7,181.8 2020.5,179.8 2024.2,181.8 2028,181.8 2031.7,175.6 2035.5,171.2 2039.3,166.2 2043,179 2046.8,181.8 2050.5,177.2 2054.3,181.8 2058,174.5 2061.8,166.8 2065.6,167.2 2069.3,179 2073.1,167 2076.8,179.9 2080.6,163.3 2084.3,181.8 2088.1,179.2 2091.9,164.8 2095.6,181.8 2099.4,181.8 2103.1,174.3 2106.9,178.7 2110.6,193.6 2114.4,170.4 2118.1,181.8 2121.9,191.8 2125.7,164.4 2129.4,167.2 2133.2,193.6 2136.9,171.7 2140.7,170.8 2144.4,188.5"/>
<use href="#mt" x="269.9" y="1526.2"/><use href="#mt" x="273.7" y="1343.7"/><use href="#mt" x="277.5" y="1245.1"/><use href="#mt" x="281.2" y="956.7"/><use href="#mt" x="285" y="905.6"/><use href="#mt" x="288.7" y="728.5"/><use href="#mt" x="292.5" y="686.5"/><use href="#mt" x="296.2" y="664.6"/><use href="#mt" x="300" y="640.9"/><use href="#mt" x="303.8" y="646.3"/><use href="#mt" x="307.5" y="650"/><use href="#mt" x="311.3" y="642.7"/><use href="#mt" x="315" y="648.2"/><use href="#mt" x="318.8" y="646.3"/><use href="#mt" x="322.5" y="644.5"/><use href="#mt" x="326.3" y="640.9"/><use href="#mt" x="330.1" y="591.6"/><use href="#mt" x="333.8" y="558.7"/><use href="#mt" x="337.6" y="544.1"/><use href="#mt" x="341.3" y="538.6"/><use href="#mt" x="345.1" y="536.8"/><use href="#mt" x="348.8" y="533.2"/><use href="#mt" x="352.6" y="531.3"/><use href="#mt" x="356.3" y="531.3"/><use href="#mt" x="360.1" y="511.3"/><use href="#mt" x="363.9" y="522.2"/><use href="#mt" x="367.6" y="518.6"/><use href="#mt" x="371.4" y="412.7"/><use href="#mt" x="375.1" y="410.9"/><use href="#mt" x="378.9" y="409"/><use href="#mt" x="382.6" y="403.6"/><use href="#mt" x="386.4" y="409"/><use href="#mt" x="390.2" y="407.9"/><use href="#mt" x="393.9" y="409"/><use href="#mt" x="397.7" y="409"/><use href="#mt" x="401.4" y="361.6"/><use href="#mt" x="405.2" y="288.6"/><use href="#mt" x="408.9" y="290.4"/><use href="#mt" x="412.7" y="286.7"/><use href="#mt" x="416.5" y="275.8"/><use href="#mt" x="420.2" y="290.4"/><use href="#mt" x="424" y="295.9"/><use href="#mt" x="427.7" y="297.7"/><use href="#mt" x="431.5" y="294"/><use href="#mt" x="435.2" y="280.3"/><use href="#mt" x="439" y="297.7"/><use href="#mt" x="442.7" y="295.9"/><use href="#mt" x="446.5" y="292.2"/><use href="#mt" x="450.3" y="303.2"/><use href="#mt" x="454" y="284.9"/><use href="#mt" x="457.8" y="308.6"/><use href="#mt" x="461.5" y="294"/><use href="#mt" x="465.3" y="290.4"/><use href="#mt" x="469" y="295.9"/><use href="#mt" x="472.8" y="288.6"/><use href="#mt" x="476.6" y="280.3"/><use href="#mt" x="480.3" y="294"/><use href="#mt" x="484.1" y="301.3"/><use href="#mt" x="487.8" y="303.2"/><use href="#mt" x="491.6" y="295.9"/><use href="#mt" x="495.3" y="281.2"/><use href="#mt" x="499.1" y="290.4"/><use href="#mt" x="502.9" y="292.2"/><use href="#mt" x="506.6" y="288.6"/><use href="#mt" x="510.4" y="294"/><use href="#mt" x="514.1" y="290.4"/><use href="#mt" x="517.9" y="286.7"/><use href="#mt" x="521.6" y="292.2"/><use href="#mt" x="525.4" y="288.6"/><use href="#mt" x="529.1" y="290.4"/><use href="#mt" x="532.9" y="288.6"/><use href="#mt" x="536.7" y="230.1"/><use href="#mt" x="540.4" y="183.6"/><use href="#mt" x="544.2" y="193.6"/><use href="#mt" x="547.9" y="184.5"/><use href="#mt" x="551.7" y="179"/><use href="#mt" x="555.4" y="198"/><use href="#mt" x="559.2" y="180.8"/><use href="#mt" x="563" y="175.4"/><use href="#mt" x="566.7" y="166.2"/><use href="#mt" x="570.5" y="185"/><use href="#mt" x="574.2" y="174.8"/><use href="#mt" x="578" y="179.2"/><use href="#mt" x="581.7" y="181.2"/><use href="#mt" x="585.5" y="184.9"/><use href="#mt" x="589.3" y="178.1"/><use href="#mt" x="593" y="188.7"/><use href="#mt" x="596.8" y="176.3"/><use href="#mt" x="600.5" y="173.2"/><use href="#mt" x="604.3" y="166.2"/><use href="#mt" x="608" y="188.7"/><use href="#mt" x="611.8" y="188.7"/><use href="#mt" x="615.5" y="188.7"/><use href="#mt" x="619.3" y="176.6"/><use href="#mt" x="623.1" y="178.7"/><use href="#mt" x="626.8" y="166.2"/><use href="#mt" x="630.6" y="188.7"/><use href="#mt" x="634.3" y="183.4"/><use href="#mt" x="638.1" y="186.1"/><use href="#mt" x="641.8" y="173.9"/><use href="#mt" x="645.6" y="188.7"/><use href="#mt" x="649.4" y="186"/><use href="#mt" x="653.1" y="184.1"/><use href="#mt" x="656.9" y="167"/><use href="#mt" x="660.6" y="169"/><use href="#mt" x="664.4" y="176.8"/><use href="#mt" x="668.1" y="166.2"/><use href="#mt" x="671.9" y="182.5"/><use href="#mt" x="675.7" y="179.8"/><use href="#mt" x="679.4" y="188.7"/><use href="#mt" x="683.2" y="185.6"/><use href="#mt" x="686.9" y="178.7"/><use href="#mt" x="690.7" y="188.7"/><use href="#mt" x="694.4" y="185"/><use href="#mt" x="698.2" y="193.6"/><use href="#mt" x="701.9" y="188.7"/><use href="#mt" x="705.7" y="169.7"/><use href="#mt" x="709.5" y="188.7"/><use href="#mt" x="713.2" y="183"/><use href="#mt" x="717" y="179.8"/><use href="#mt" x="720.7" y="178.8"/><use href="#mt" x="724.5" y="188.7"/><use href="#mt" x="728.2" y="202.8"/><use href="#mt" x="732" y="180.5"/><use href="#mt" x="735.8" y="173.7"/><use href="#mt" x="739.5" y="188.7"/><use href="#mt" x="743.3" y="188.7"/><use href="#mt" x="747" y="185.6"/><use href="#mt" x="750.8" y="180.8"/><use href="#mt" x="754.5" y="183.6"/><use href="#mt" x="758.3" y="169.7"/><use href="#mt" x="762.1" y="176.6"/><use href="#mt" x="765.8" y="167.2"/><use href="#mt" x="769.6" y="178.8"/><use href="#mt" x="773.3" y="169.7"/><use href="#mt" x="777.1" y="177"/><use href="#mt" x="780.8" y="188.7"/><use href="#mt" x="784.6" y="168.6"/><use href="#mt" x="788.3" y="188.7"/><use href="#mt" x="792.1" y="193.6"/><use href="#mt" x="795.9" y="186"/><use href="#mt" x="799.6" y="180.3"/><use href="#mt" x="803.4" y="175.9"/><use href="#mt" x="807.1" y="173.2"/><use href="#mt" x="810.9" y="166.4"/><use href="#mt" x="814.6" y="166.4"/><use href="#mt" x="818.4" y="185.4"/><use href="#mt" x="822.2" y="177.9"/><use href="#mt" x="825.9" y="167.3"/><use href="#mt" x="829.7" y="193.6"/><use href="#mt" x="833.4" y="185.8"/><use href="#mt" x="837.2" y="188.7"/><use href="#mt" x="840.9" y="188.7"/><use href="#mt" x="844.7" y="173.4"/><use href="#mt" x="848.5" y="185"/><use href="#mt" x="852.2" y="184"/><use href="#mt" x="856" y="177"/><use href="#mt" x="859.7" y="169.2"/><use href="#mt" x="863.5" y="188.7"/><use href="#mt" x="867.2" y="185.2"/><use href="#mt" x="871" y="167.3"/><use href="#mt" x="874.7" y="188.7"/><use href="#mt" x="878.5" y="185"/><use href="#mt" x="882.3" y="168.4"/><use href="#mt" x="886" y="193.6"/><use href="#mt" x="889.8" y="181.8"/><use href="#mt" x="893.5" y="175.6"/><use href="#mt" x="897.3" y="188.7"/><use href="#mt" x="901" y="173.4"/><use href="#mt" x="904.8" y="188.7"/><use href="#mt" x="908.6" y="188.7"/><use href="#mt" x="912.3" y="185.6"/><use href="#mt" x="916.1" y="175.4"/><use href="#mt" x="919.8" y="166.6"/><use href="#mt" x="923.6" y="193.6"/><use href="#mt" x="927.3" y="177.6"/><use href="#mt" x="931.1" y="169.3"/><use href="#mt" x="934.9" y="180.1"/><use href="#mt" x="938.6" y="193.6"/><use href="#mt" x="942.4" y="193.6"/><use href="#mt" x="946.1" y="182.1"/><use href="#mt" x="949.9" y="187.6"/><use href="#mt" x="953.6" y="189.2"/><use href="#mt" x="957.4" y="193.6"/><use href="#mt" x="961.1" y="193.6"/><use href="#mt" x="964.9" y="177.9"/><use href="#mt" x="968.7" y="179"/><use href="#mt" x="972.4" y="193.6"/><use href="#mt" x="976.2" y="189.4"/><use href="#mt" x="979.9" y="187.8"/><use href="#mt" x="983.7" y="193.6"/><use href="#mt" x="987.4" y="182.9"/><use href="#mt" x="991.2" y="193.6"/><use href="#mt" x="995" y="187.1"/><use href="#mt" x="998.7" y="185.2"/><use href="#mt" x="1002.5" y="181.9"/><use href="#mt" x="1006.2" y="181.8"/><use href="#mt" x="1010" y="202.8"/><use href="#mt" x="1013.7" y="181.8"/><use href="#mt" x="1017.5" y="193.6"/><use href="#mt" x="1021.2" y="176.1"/><use href="#mt" x="1025" y="166.2"/><use href="#mt" x="1028.8" y="180.1"/><use href="#mt" x="1032.5" y="197.3"/><use href="#mt" x="1036.3" y="176.8"/><use href="#mt" x="1040" y="181.8"/><use href="#mt" x="1043.8" y="178.1"/><use href="#mt" x="1047.5" y="181.8"/><use href="#mt" x="1051.3" y="170.4"/><use href="#mt" x="1055.1" y="179.4"/><use href="#mt" x="1058.8" y="181.8"/><use href="#mt" x="1062.6" y="180.1"/><use href="#mt" x="1066.3" y="181.8"/><use href="#mt" x="1070.1" y="181.8"/><use href="#mt" x="1073.8" y="163.1"/><use href="#mt" x="1077.6" y="164.4"/><use href="#mt" x="1081.4" y="181.8"/><use href="#mt" x="1085.1" y="181.8"/><use href="#mt" x="1088.9" y="180.5"/><use href="#mt" x="1092.6" y="172.1"/><use href="#mt" x="1096.4" y="181.8"/><use href="#mt" x="1100.1" y="173.9"/><use href="#mt" x="1103.9" y="179.2"/><use href="#mt" x="1107.6" y="179.9"/><use href="#mt" x="1111.4" y="181.8"/><use href="#mt" x="1115.2" y="178.7"/><use href="#mt" x="1118.9" y="177"/><use href="#mt" x="1122.7" y="171.9"/><use href="#mt" x="1126.4" y="197.3"/><use href="#mt" x="1130.2" y="162.6"/><use href="#mt" x="1133.9" y="172.3"/><use href="#mt" x="1137.7" y="176.3"/><use href="#mt" x="1141.5" y="166.1"/><use href="#mt" x="1145.2" y="164.4"/><use href="#mt" x="1149" y="181.8"/><use href="#mt" x="1152.7" y="163.9"/><use href="#mt" x="1156.5" y="170.4"/><use href="#mt" x="1160.2" y="163.7"/><use href="#mt" x="1164" y="162.6"/><use href="#mt" x="1167.8" y="181.8"/><use href="#mt" x="1171.5" y="180.8"/><use href="#mt" x="1175.3" y="179"/><use href="#mt" x="1179" y="170.8"/><use href="#mt" x="1182.8" y="181.8"/><use href="#mt" x="1186.5" y="177.7"/><use href="#mt" x="1190.3" y="162.6"/><use href="#mt" x="1194" y="181.8"/><use href="#mt" x="1197.8" y="175.7"/><use href="#mt" x="1201.6" y="175.9"/><use href="#mt" x="1205.3" y="197.3"/><use href="#mt" x="1209.1" y="181.8"/><use href="#mt" x="1212.8" y="179.4"/><use href="#mt" x="1216.6" y="174.6"/><use href="#mt" x="1220.3" y="179.2"/><use href="#mt" x="1224.1" y="179.6"/><use href="#mt" x="1227.9" y="181.8"/><use href="#mt" x="1231.6" y="164.1"/><use href="#mt" x="1235.4" y="162.6"/><use href="#mt" x="1239.1" y="166.2"/><use href="#mt" x="1242.9" y="172.3"/><use href="#mt" x="1246.6" y="181.8"/><use href="#mt" x="1250.4" y="181.8"/><use href="#mt" x="1254.2" y="174.3"/><use href="#mt" x="1257.9" y="167.2"/><use href="#mt" x="1261.7" y="165"/><use href="#mt" x="1265.4" y="167.2"/><use href="#mt" x="1269.2" y="169.9"/><use href="#mt" x="1272.9" y="166.2"/><use href="#mt" x="1276.7" y="172.6"/><use href="#mt" x="1280.4" y="177.7"/><use href="#mt" x="1284.2" y="175.7"/><use href="#mt" x="1288" y="169.9"/><use href="#mt" x="1291.7" y="177"/><use href="#mt" x="1295.5" y="175.9"/><use href="#mt" x="1299.2" y="181.8"/><use href="#mt" x="1303" y="179.6"/><use href="#mt" x="1306.7" y="181.8"/><use href="#mt" x="1310.5" y="175.7"/><use href="#mt" x="1314.3" y="175.9"/><use href="#mt" x="1318" y="181.8"/><use href="#mt" x="1321.8" y="181.8"/><use href="#mt" x="1325.5" y="181.8"/><use href="#mt" x="1329.3" y="177.6"/><use href="#mt" x="1333" y="177.4"/><use href="#mt" x="1336.8" y="193.6"/><use href="#mt" x="1340.6" y="174.1"/><use href="#mt" x="1344.3" y="181.8"/><use href="#mt" x="1348.1" y="177.7"/><use href="#mt" x="1351.8" y="171.9"/><use href="#mt" x="1355.6" y="165.9"/><use href="#mt" x="1359.3" y="174.8"/><use href="#mt" x="1363.1" y="179.9"/><use href="#mt" x="1366.8" y="181.8"/><use href="#mt" x="1370.6" y="181.8"/><use href="#mt" x="1374.4" y="177.6"/><use href="#mt" x="1378.1" y="181.8"/><use href="#mt" x="1381.9" y="181.8"/><use href="#mt" x="1385.6" y="172.5"/><use href="#mt" x="1389.4" y="172.1"/><use href="#mt" x="1393.1" y="180.3"/><use href="#mt" x="1396.9" y="172.3"/><use href="#mt" x="1400.7" y="181.8"/><use href="#mt" x="1404.4" y="181.8"/><use href="#mt" x="1408.2" y="178.5"/><use href="#mt" x="1411.9" y="164.6"/><use href="#mt" x="1415.7" y="178.1"/><use href="#mt" x="1419.4" y="174.8"/><use href="#mt" x="1423.2" y="177.2"/><use href="#mt" x="1427" y="177.2"/><use href="#mt" x="1430.7" y="177.4"/><use href="#mt" x="1434.5" y="181.8"/><use href="#mt" x="1438.2" y="171"/><use href="#mt" x="1442" y="163"/><use href="#mt" x="1445.7" y="170.4"/><use href="#mt" x="1449.5" y="181.8"/><use href="#mt" x="1453.2" y="181.8"/><use href="#mt" x="1457" y="181.8"/><use href="#mt" x="1460.8" y="178.1"/><use href="#mt" x="1464.5" y="181.8"/><use href="#mt" x="1468.3" y="188.1"/><use href="#mt" x="1472" y="173.9"/><use href="#mt" x="1475.8" y="174.1"/><use href="#mt" x="1479.5" y="162.6"/><use href="#mt" x="1483.3" y="181.8"/><use href="#mt" x="1487.1" y="164.6"/><use href="#mt" x="1490.8" y="179.2"/><use href="#mt" x="1494.6" y="166.1"/><use href="#mt" x="1498.3" y="181.8"/><use href="#mt" x="1502.1" y="193.6"/><use href="#mt" x="1505.8" y="173.9"/><use href="#mt" x="1509.6" y="171.4"/><use href="#mt" x="1513.4" y="176.8"/><use href="#mt" x="1517.1" y="175.4"/><use href="#mt" x="1520.9" y="174.1"/><use href="#mt" x="1524.6" y="177.2"/><use href="#mt" x="1528.4" y="188.1"/><use href="#mt" x="1532.1" y="170.4"/><use href="#mt" x="1535.9" y="177"/><use href="#mt" x="1539.6" y="181.8"/><use href="#mt" x="1543.4" y="163"/><use href="#mt" x="1547.2" y="171.2"/><use href="#mt" x="1550.9" y="172.8"/><use href="#mt" x="1554.7" y="180.5"/><use href="#mt" x="1558.4" y="170.1"/><use href="#mt" x="1562.2" y="173.5"/><use href="#mt" x="1565.9" y="181.8"/><use href="#mt" x="1569.7" y="176.6"/><use href="#mt" x="1573.5" y="165.1"/><use href="#mt" x="1577.2" y="177.2"/><use href="#mt" x="1581" y="162.6"/><use href="#mt" x="1584.7" y="174.1"/><use href="#mt" x="1588.5" y="167.5"/><use href="#mt" x="1592.2" y="193.6"/><use href="#mt" x="1596" y="172.1"/><use href="#mt" x="1599.8" y="172.8"/><use href="#mt" x="1603.5" y="181.8"/><use href="#mt" x="1607.3" y="181.8"/><use href="#mt" x="1611" y="172.8"/><use href="#mt" x="1614.8" y="193.6"/><use href="#mt" x="1618.5" y="163.1"/><use href="#mt" x="1622.3" y="181.8"/><use href="#mt" x="1626" y="162.6"/><use href="#mt" x="1629.8" y="175.2"/><use href="#mt" x="1633.6" y="181.8"/><use href="#mt" x="1637.3" y="178.7"/><use href="#mt" x="1641.1" y="181.8"/><use href="#mt" x="1644.8" y="171.7"/><use href="#mt" x="1648.6" y="170.1"/><use href="#mt" x="1652.3" y="181.8"/><use href="#mt" x="1656.1" y="169.9"/><use href="#mt" x="1659.9" y="181.8"/><use href="#mt" x="1663.6" y="181.8"/><use href="#mt" x="1667.4" y="178.1"/><use href="#mt" x="1671.1" y="165.1"/><use href="#mt" x="1674.9" y="181.8"/><use href="#mt" x="1678.6" y="176.3"/><use href="#mt" x="1682.4" y="178.7"/><use href="#mt" x="1686.2" y="176.3"/><use href="#mt" x="1689.9" y="175.9"/><use href="#mt" x="1693.7" y="167.7"/><use href="#mt" x="1697.4" y="171.7"/><use href="#mt" x="1701.2" y="167.9"/><use href="#mt" x="1704.9" y="181.8"/><use href="#mt" x="1708.7" y="171.4"/><use href="#mt" x="1712.4" y="175.6"/><use href="#mt" x="1716.2" y="175.2"/><use href="#mt" x="1720" y="165.5"/><use href="#mt" x="1723.7" y="178.8"/><use href="#mt" x="1727.5" y="179.8"/><use href="#mt" x="1731.2" y="179.8"/><use href="#mt" x="1735" y="173.7"/><use href="#mt" x="1738.7" y="174.5"/><use href="#mt" x="1742.5" y="162.6"/><use href="#mt" x="1746.3" y="180.5"/><use href="#mt" x="1750" y="176.8"/><use href="#mt" x="1753.8" y="180.3"/><use href="#mt" x="1757.5" y="163.5"/><use href="#mt" x="1761.3" y="181.8"/><use href="#mt" x="1765" y="174.5"/><use href="#mt" x="1768.8" y="162.6"/><use href="#mt" x="1772.5" y="167.3"/><use href="#mt" x="1776.3" y="164.1"/><use href="#mt" x="1780.1" y="169.9"/><use href="#mt" x="1783.8" y="168.1"/><use href="#mt" x="1787.6" y="181.8"/><use href="#mt" x="1791.3" y="174.5"/><use href="#mt" x="1795.1" y="175"/><use href="#mt" x="1798.8" y="179.6"/><use href="#mt" x="1802.6" y="181.8"/><use href="#mt" x="1806.4" y="181.8"/><use href="#mt" x="1810.1" y="174.8"/><use href="#mt" x="1813.9" y="177"/><use href="#mt" x="1817.6" y="179.6"/><use href="#mt" x="1821.4" y="181.8"/><use href="#mt" x="1825.1" y="164.2"/><use href="#mt" x="1828.9" y="181.8"/><use href="#mt" x="1832.7" y="177.6"/><use href="#mt" x="1836.4" y="171.5"/><use href="#mt" x="1840.2" y="180.7"/><use href="#mt" x="1843.9" y="170.4"/><use href="#mt" x="1847.7" y="177.2"/><use href="#mt" x="1851.4" y="181.8"/><use href="#mt" x="1855.2" y="170.8"/><use href="#mt" x="1858.9" y="178.1"/><use href="#mt" x="1862.7" y="171"/><use href="#mt" x="1866.5" y="181.8"/><use href="#mt" x="1870.2" y="181.8"/><use href="#mt" x="1874" y="180.5"/><use href="#mt" x="1877.7" y="181.8"/><use href="#mt" x="1881.5" y="175.9"/><use href="#mt" x="1885.2" y="173.5"/><use href="#mt" x="1889" y="162.6"/><use href="#mt" x="1892.8" y="171.2"/><use href="#mt" x="1896.5" y="171.2"/><use href="#mt" x="1900.3" y="181.8"/><use href="#mt" x="1904" y="173.9"/><use href="#mt" x="1907.8" y="177.4"/><use href="#mt" x="1911.5" y="181.8"/><use href="#mt" x="1915.3" y="170.4"/><use href="#mt" x="1919.1" y="180.1"/><use href="#mt" x="1922.8" y="180.7"/><use href="#mt" x="1926.6" y="162.6"/><use href="#mt" x="1930.3" y="170.6"/><use href="#mt" x="1934.1" y="170.6"/><use href="#mt" x="1937.8" y="179"/><use href="#mt" x="1941.6" y="180.1"/><use href="#mt" x="1945.3" y="176.5"/><use href="#mt" x="1949.1" y="179"/><use href="#mt" x="1952.9" y="171.5"/><use href="#mt" x="1956.6" y="173.4"/><use href="#mt" x="1960.4" y="181.8"/><use href="#mt" x="1964.1" y="181.8"/><use href="#mt" x="1967.9" y="179.8"/><use href="#mt" x="1971.6" y="178.3"/><use href="#mt" x="1975.4" y="181.8"/><use href="#mt" x="1979.2" y="193.6"/><use href="#mt" x="1982.9" y="177.9"/><use href="#mt" x="1986.7" y="174.1"/><use href="#mt" x="1990.4" y="171.2"/><use href="#mt" x="1994.2" y="177.9"/><use href="#mt" x="1997.9" y="193.6"/><use href="#mt" x="2001.7" y="179.9"/><use href="#mt" x="2005.5" y="173.5"/><use href="#mt" x="2009.2" y="181.8"/><use href="#mt" x="2013" y="166.4"/><use href="#mt" x="2016.7" y="181.8"/><use href="#mt" x="2020.5" y="179.8"/><use href="#mt" x="2024.2" y="181.8"/><use href="#mt" x="2028" y="181.8"/><use href="#mt" x="2031.7" y="175.6"/><use href="#mt" x="2035.5" y="171.2"/><use href="#mt" x="2039.3" y="166.2"/><use href="#mt" x="2043" y="179"/><use href="#mt" x="2046.8" y="181.8"/><use href="#mt" x="2050.5" y="177.2"/><use href="#mt" x="2054.3" y="181.8"/><use href="#mt" x="2058" y="174.5"/><use href="#mt" x="2061.8" y="166.8"/><use href="#mt" x="2065.6" y="167.2"/><use href="#mt" x="2069.3" y="179"/><use href="#mt" x="2073.1" y="167"/><use href="#mt" x="2076.8" y="179.9"/><use href="#mt" x="2080.6" y="163.3"/><use href="#mt" x="2084.3" y="181.8"/><use href="#mt" x="2088.1" y="179.2"/><use href="#mt" x="2091.9" y="164.8"/><use href="#mt" x="2095.6" y="181.8"/><use href="#mt" x="2099.4" y="181.8"/><use href="#mt" x="2103.1" y="174.3"/><use href="#mt" x="2106.9" y="178.7"/><use href="#mt" x="2110.6" y="193.6"/><use href="#mt" x="2114.4" y="170.4"/><use href="#mt" x="2118.1" y="181.8"/><use href="#mt" x="2121.9" y="191.8"/><use href="#mt" x="2125.7" y="164.4"/><use href="#mt" x="2129.4" y="167.2"/><use href="#mt" x="2133.2" y="193.6"/><use href="#mt" x="2136.9" y="171.7"/><use href="#mt" x="2140.7" y="170.8"/><use href="#mt" x="2144.4" y="188.5"/>
</g>
<g clip-path="url(#ax)" shape-rendering="crispEdges">
<polyline fill="none" stroke="#800080" stroke-width="5.2" stroke-dasharray="17.9 5.8" points="269.9,1467 273.7,1293.6 277.5,997.9 281.2,992.4 285,942.2 288.7,855.5 292.5,791.6 296.2,767.9 300,736.8 303.8,724 307.5,718.6 311.3,713.1 315,685.7 318.8,627.3 322.5,621.8 326.3,618.2 330.1,594.4 333.8,585.3 337.6,508.6 341.3,499.5 345.1,505 348.8,521.4 352.6,481.3 356.3,490.4 360.1,484.9 363.9,475.8 367.6,464.8 371.4,477.6 375.1,484.9 378.9,477.6 382.6,470.3 386.4,466.7 390.2,463 393.9,459.3 397.7,472.1 401.4,441.1 405.2,421 408.9,408.2 412.7,404.6 416.5,400.9 420.2,397.3 424,394.5 427.7,399.1 431.5,415.5 435.2,417.4 439,406.4 442.7,408.2 446.5,406.4 450.3,402.8 454,408.2 457.8,415.5 461.5,421 465.3,411.9 469,312.2 472.8,308.7 476.6,305.1 480.3,301.4 484.1,297.8 487.8,295.1 491.6,291.4 495.3,287.8 499.1,284.1 502.9,280.4 506.6,298.7 510.4,287.8 514.1,280.4 517.9,302.4 521.6,285.6 525.4,282.1 529.1,298.7 532.9,284.5 536.7,281.5 540.4,280.4 544.2,280.4 547.9,284.1 551.7,282.6 555.4,292.7 559.2,280.4 563,280.8 566.7,283.9 570.5,289.9 574.2,280.4 578,291 581.7,288.8 585.5,287.8 589.3,290.3 593,291.6 596.8,286.8 600.5,297.8 604.3,288.1 608,281.5 611.8,275.3 615.5,272.2 619.3,288.8 623.1,292.3 626.8,281.2 630.6,286.3 634.3,285.7 638.1,289.4 641.8,279.2 645.6,279.5 649.4,272.2 653.1,278.3 656.9,289.8 660.6,287.6 664.4,275.7 668.1,289.8 671.9,291.4 675.7,272.2 679.4,281.2 683.2,273.1 686.9,293.2 690.7,302.4 694.4,286.5 698.2,287.9 701.9,289.6 705.7,286.8 709.5,291.4 713.2,276.4 717,290.3 720.7,283.9 724.5,281.9 728.2,281.5 732,285 735.8,284.1 739.5,276.3 743.3,302.4 747,275 750.8,288.3 754.5,279.9 758.3,286.1 762.1,286.7 765.8,292.7 769.6,291.8 773.3,281.7 777.1,289.8 780.8,285.4 784.6,289.6 788.3,288.1 792.1,290.5 795.9,297.8 799.6,282.1 803.4,284.8 807.1,289.8 810.9,278.1 814.6,283.4 818.4,291.6 822.2,290.7 825.9,275.9 829.7,287.9 833.4,286.3 837.2,292.3 840.9,277.3 844.7,289.4 848.5,283.4 852.2,280.3 856,283.9 859.7,297.8 863.5,289.2 867.2,280.8 871,289.2 874.7,282.3 878.5,275.7 882.3,276.4 886,281.4 889.8,282.6 893.5,291 897.3,272.2 901,276.6 904.8,287.6 908.6,292.9 912.3,283.9 916.1,285.9 919.8,277.9 923.6,279.7 927.3,297.8 931.1,283.9 934.9,285 938.6,281.5 942.4,281.9 946.1,281.5 949.9,289.9 953.6,278.8 957.4,293 961.1,289 964.9,283.6 968.7,293.6 972.4,282.6 976.2,287.9 979.9,287.8 983.7,292.7 987.4,286.8 991.2,271.3 995,293.2 998.7,278.1 1002.5,275.3 1006.2,297.8 1010,271.3 1013.7,278.4 1017.5,281.5 1021.2,281.4 1025,285 1028.8,284.1 1032.5,287.2 1036.3,292.1 1040,271.3 1043.8,281.4 1047.5,294.1 1051.3,279.2 1055.1,275.3 1058.8,286.3 1062.6,276.6 1066.3,289.9 1070.1,271.3 1073.8,302.4 1077.6,286.3 1081.4,288.7 1085.1,291.6 1088.9,283.7 1092.6,288.3 1096.4,285 1100.1,282.3 1103.9,289.6 1107.6,286.3 1111.4,293.4 1115.2,281.4 1118.9,280.1 1122.7,288.5 1126.4,290.1 1130.2,281.9 1133.9,285.4 1137.7,278.4 1141.5,279.7 1145.2,285.6 1149,285.9 1152.7,297.8 1156.5,282.6 1160.2,285 1164,283.7 1167.8,287 1171.5,280.8 1175.3,297.8 1179,291.6 1182.8,282.1 1186.5,287.9 1190.3,287.6 1194,283 1197.8,277.5 1201.6,286.5 1205.3,286.5 1209.1,281.9 1212.8,277.9 1216.6,278.8 1220.3,275.2 1224.1,292.9 1227.9,283.9 1231.6,287.2 1235.4,287.2 1239.1,288.1 1242.9,282.8 1246.6,279.5 1250.4,281.5 1254.2,292.7 1257.9,285.2 1261.7,271.3 1265.4,286.7 1269.2,288.8 1272.9,287.4 1276.7,282.5 1280.4,288.3 1284.2,290.9 1288,294 1291.7,291.6 1295.5,281.2 1299.2,292.9 1303,287.8 1306.7,266.6 1310.5,278.6 1314.3,278.3 1318,293.4 1321.8,291.4 1325.5,289.2 1329.3,271.3 1333,285 1336.8,276.1 1340.6,286.5 1344.3,302.4 1348.1,284.5 1351.8,276.4 1355.6,286.7 1359.3,281.4 1363.1,292 1366.8,287 1370.6,293.4 1374.4,284.3 1378.1,281.9 1381.9,290.5 1385.6,284.8 1389.4,281 1393.1,287.9 1396.9,271.3 1400.7,292.7 1404.4,287.2 1408.2,275.3 1411.9,275.5 1415.7,284.6 1419.4,290.9 1423.2,287.8 1427,286.3 1430.7,287.2 1434.5,285.9 1438.2,287.2 1442,277.2 1445.7,293.4 1449.5,277.9 1453.2,286.8 1457,275.3 1460.8,277 1464.5,276.6 1468.3,283.9 1472,277.7 1475.8,291.6 1479.5,287.8 1483.3,291.6 1487.1,293.2 1490.8,276.4 1494.6,287 1498.3,289.9 1502.1,277 1505.8,307.3 1509.6,282.5 1513.4,288.5 1517.1,292 1520.9,291.8 1524.6,282.5 1528.4,276.6 1532.1,281.9 1535.9,289.2 1539.6,302.4 1543.4,278.1 1547.2,279.5 1550.9,284.6 1554.7,282.8 1558.4,293 1562.2,291.6 1565.9,275.5 1569.7,293.6 1573.5,278.6 1577.2,290.9 1581,280.1 1584.7,291.2 1588.5,292.3 1592.2,281.4 1596,276.1 1599.8,284.3 1603.5,276.8 1607.3,281.2 1611,277.7 1614.8,283.4 1618.5,277.2 1622.3,281.2 1626,286.3 1629.8,286.3 1633.6,278.1 1637.3,293 1641.1,285 1644.8,292.1 1648.6,278.1 1652.3,283.6 1656.1,278.3 1659.9,286.8 1663.6,285.7 1667.4,283.7 1671.1,282.5 1674.9,289.6 1678.6,293 1682.4,284.5 1686.2,292.1 1689.9,284.5 1693.7,291.6 1697.4,282.5 1701.2,283.9 1704.9,291 1708.7,278.8 1712.4,285 1716.2,276.3 1720,288.3 1723.7,284.6 1727.5,286.7 1731.2,280.6 1735,287.6 1738.7,266.6 1742.5,285.2 1746.3,290.3 1750,275.7 1753.8,288.1 1757.5,277 1761.3,297.8 1765,285.7 1768.8,286.8 1772.5,289.2 1776.3,291.8 1780.1,288.3 1783.8,276.1 1787.6,291 1791.3,284.6 1795.1,285.2 1798.8,287.9 1802.6,293.8 1806.4,279.9 1810.1,284.3 1813.9,282.6 1817.6,285.6 1821.4,276.8 1825.1,284.1 1828.9,281 1832.7,289.8 1836.4,286.3 1840.2,282.3 1843.9,276.4 1847.7,279.5 1851.4,278.4 1855.2,285 1858.9,279.5 1862.7,278.8 1866.5,302.4 1870.2,291.2 1874,279.7 1877.7,275.7 1881.5,279.2 1885.2,281.4 1889,294 1892.8,287.6 1896.5,293.2 1900.3,280.6 1904,282.5 1907.8,276.4 1911.5,292.3 1915.3,302.4 1919.1,266.6 1922.8,277.7 1926.6,291.8 1930.3,286.5 1934.1,275.2 1937.8,287.8 1941.6,283.7 1945.3,291.8 1949.1,276.8 1952.9,276.4 1956.6,286.1 1960.4,292.1 1964.1,287.2 1967.9,281.9 1971.6,276.6 1975.4,284.5 1979.2,286.5 1982.9,291 1986.7,287.8 1990.4,287.8 1994.2,278.3 1997.9,285.6 2001.7,279.4 2005.5,290.9 2009.2,292.9 2013,291 2016.7,291.2 2020.5,276.1 2024.2,285.2 2028,287.9 2031.7,292.9 2035.5,289.6 2039.3,297.8 2043,280.8 2046.8,283.4 2050.5,288.1 2054.3,278.3 2058,287.4 2061.8,278.6 2065.6,302.4 2069.3,276.3 2073.1,284.1 2076.8,277.7 2080.6,275.7 2084.3,302.4 2088.1,293.6 2091.9,289 2095.6,290.7 2099.4,280.6 2103.1,283.7 2106.9,282.8 2110.6,276.1 2114.4,288.1 2118.1,281.7 2121.9,289.4 2125.7,282.6 2129.4,275.2 2133.2,292.7 2136.9,282.3 2140.7,275.7 2144.4,275"/>
<use href="#md" x="269.9" y="1467"/><use href="#md" x="273.7" y="1293.6"/><use href="#md" x="277.5" y="997.9"/><use href="#md" x="281.2" y="992.4"/><use href="#md" x="285" y="942.2"/><use href="#md" x="288.7" y="855.5"/><use href="#md" x="292.5" y="791.6"/><use href="#md" x="296.2" y="767.9"/><use href="#md" x="300" y="736.8"/><use href="#md" x="303.8" y="724"/><use href="#md" x="307.5" y="718.6"/><use href="#md" x="311.3" y="713.1"/><use href="#md" x="315" y="685.7"/><use href="#md" x="318.8" y="627.3"/><use href="#md" x="322.5" y="621.8"/><use href="#md" x="326.3" y="618.2"/><use href="#md" x="330.1" y="594.4"/><use href="#md" x="333.8" y="585.3"/><use href="#md" x="337.6" y="508.6"/><use href="#md" x="341.3" y="499.5"/><use href="#md" x="345.1" y="505"/><use href="#md" x="348.8" y="521.4"/><use href="#md" x="352.6" y="481.3"/><use href="#md" x="356.3" y="490.4"/><use href="#md" x="360.1" y="484.9"/><use href="#md" x="363.9" y="475.8"/><use href="#md" x="367.6" y="464.8"/><use href="#md" x="371.4" y="477.6"/><use href="#md" x="375.1" y="484.9"/><use href="#md" x="378.9" y="477.6"/><use href="#md" x="382.6" y="470.3"/><use href="#md" x="386.4" y="466.7"/><use href="#md" x="390.2" y="463"/><use href="#md" x="393.9" y="459.3"/><use href="#md" x="397.7" y="472.1"/><use href="#md" x="401.4" y="441.1"/><use href="#md" x="405.2" y="421"/><use href="#md" x="408.9" y="408.2"/><use href="#md" x="412.7" y="404.6"/><use href="#md" x="416.5" y="400.9"/><use href="#md" x="420.2" y="397.3"/><use href="#md" x="424" y="394.5"/><use href="#md" x="427.7" y="399.1"/><use href="#md" x="431.5" y="415.5"/><use href="#md" x="435.2" y="417.4"/><use href="#md" x="439" y="406.4"/><use href="#md" x="442.7" y="408.2"/><use href="#md" x="446.5" y="406.4"/><use href="#md" x="450.3" y="402.8"/><use href="#md" x="454" y="408.2"/><use href="#md" x="457.8" y="415.5"/><use href="#md" x="461.5" y="421"/><use href="#md" x="465.3" y="411.9"/><use href="#md" x="469" y="312.2"/><use href="#md" x="472.8" y="308.7"/><use href="#md" x="476.6" y="305.1"/><use href="#md" x="480.3" y="301.4"/><use href="#md" x="484.1" y="297.8"/><use href="#md" x="487.8" y="295.1"/><use href="#md" x="491.6" y="291.4"/><use href="#md" x="495.3" y="287.8"/><use href="#md" x="499.1" y="284.1"/><use href="#md" x="502.9" y="280.4"/><use href="#md" x="506.6" y="298.7"/><use href="#md" x="510.4" y="287.8"/><use href="#md" x="514.1" y="280.4"/><use href="#md" x="517.9" y="302.4"/><use href="#md" x="521.6" y="285.6"/><use href="#md" x="525.4" y="282.1"/><use href="#md" x="529.1" y="298.7"/><use href="#md" x="532.9" y="284.5"/><use href="#md" x="536.7" y="281.5"/><use href="#md" x="540.4" y="280.4"/><use href="#md" x="544.2" y="280.4"/><use href="#md" x="547.9" y="284.1"/><use href="#md" x="551.7" y="282.6"/><use href="#md" x="555.4" y="292.7"/><use href="#md" x="559.2" y="280.4"/><use href="#md" x="563" y="280.8"/><use href="#md" x="566.7" y="283.9"/><use href="#md" x="570.5" y="289.9"/><use href="#md" x="574.2" y="280.4"/><use href="#md" x="578" y="291"/><use href="#md" x="581.7" y="288.8"/><use href="#md" x="585.5" y="287.8"/><use href="#md" x="589.3" y="290.3"/><use href="#md" x="593" y="291.6"/><use href="#md" x="596.8" y="286.8"/><use href="#md" x="600.5" y="297.8"/><use href="#md" x="604.3" y="288.1"/><use href="#md" x="608" y="281.5"/><use href="#md" x="611.8" y="275.3"/><use href="#md" x="615.5" y="272.2"/><use href="#md" x="619.3" y="288.8"/><use href="#md" x="623.1" y="292.3"/><use href="#md" x="626.8" y="281.2"/><use href="#md" x="630.6" y="286.3"/><use href="#md" x="634.3" y="285.7"/><use href="#md" x="638.1" y="289.4"/><use href="#md" x="641.8" y="279.2"/><use href="#md" x="645.6" y="279.5"/><use href="#md" x="649.4" y="272.2"/><use href="#md" x="653.1" y="278.3"/><use href="#md" x="656.9" y="289.8"/><use href="#md" x="660.6" y="287.6"/><use href="#md" x="664.4" y="275.7"/><use href="#md" x="668.1" y="289.8"/><use href="#md" x="671.9" y="291.4"/><use href="#md" x="675.7" y="272.2"/><use href="#md" x="679.4" y="281.2"/><use href="#md" x="683.2" y="273.1"/><use href="#md" x="686.9" y="293.2"/><use href="#md" x="690.7" y="302.4"/><use href="#md" x="694.4" y="286.5"/><use href="#md" x="698.2" y="287.9"/><use href="#md" x="701.9" y="289.6"/><use href="#md" x="705.7" y="286.8"/><use href="#md" x="709.5" y="291.4"/><use href="#md" x="713.2" y="276.4"/><use href="#md" x="717" y="290.3"/><use href="#md" x="720.7" y="283.9"/><use href="#md" x="724.5" y="281.9"/><use href="#md" x="728.2" y="281.5"/><use href="#md" x="732" y="285"/><use href="#md" x="735.8" y="284.1"/><use href="#md" x="739.5" y="276.3"/><use href="#md" x="743.3" y="302.4"/><use href="#md" x="747" y="275"/><use href="#md" x="750.8" y="288.3"/><use href="#md" x="754.5" y="279.9"/><use href="#md" x="758.3" y="286.1"/><use href="#md" x="762.1" y="286.7"/><use href="#md" x="765.8" y="292.7"/><use href="#md" x="769.6" y="291.8"/><use href="#md" x="773.3" y="281.7"/><use href="#md" x="777.1" y="289.8"/><use href="#md" x="780.8" y="285.4"/><use href="#md" x="784.6" y="289.6"/><use href="#md" x="788.3" y="288.1"/><use href="#md" x="792.1" y="290.5"/><use href="#md" x="795.9" y="297.8"/><use href="#md" x="799.6" y="282.1"/><use href="#md" x="803.4" y="284.8"/><use href="#md" x="807.1" y="289.8"/><use href="#md" x="810.9" y="278.1"/><use href="#md" x="814.6" y="283.4"/><use href="#md" x="818.4" y="291.6"/><use href="#md" x="822.2" y="290.7"/><use href="#md" x="825.9" y="275.9"/><use href="#md" x="829.7" y="287.9"/><use href="#md" x="833.4" y="286.3"/><use href="#md" x="837.2" y="292.3"/><use href="#md" x="840.9" y="277.3"/><use href="#md" x="844.7" y="289.4"/><use href="#md" x="848.5" y="283.4"/><use href="#md" x="852.2" y="280.3"/><use href="#md" x="856" y="283.9"/><use href="#md" x="859.7" y="297.8"/><use href="#md" x="863.5" y="289.2"/><use href="#md" x="867.2" y="280.8"/><use href="#md" x="871" y="289.2"/><use href="#md" x="874.7" y="282.3"/><use href="#md" x="878.5" y="275.7"/><use href="#md" x="882.3" y="276.4"/><use href="#md" x="886" y="281.4"/><use href="#md" x="889.8" y="282.6"/><use href="#md" x="893.5" y="291"/><use href="#md" x="897.3" y="272.2"/><use href="#md" x="901" y="276.6"/><use href="#md" x="904.8" y="287.6"/><use href="#md" x="908.6" y="292.9"/><use href="#md" x="912.3" y="283.9"/><use href="#md" x="916.1" y="285.9"/><use href="#md" x="919.8" y="277.9"/><use href="#md" x="923.6" y="279.7"/><use href="#md" x="927.3" y="297.8"/><use href="#md" x="931.1" y="283.9"/><use href="#md" x="934.9" y="285"/><use href="#md" x="938.6" y="281.5"/><use href="#md" x="942.4" y="281.9"/><use href="#md" x="946.1" y="281.5"/><use href="#md" x="949.9" y="289.9"/><use href="#md" x="953.6" y="278.8"/><use href="#md" x="957.4" y="293"/><use href="#md" x="961.1" y="289"/><use href="#md" x="964.9" y="283.6"/><use href="#md" x="968.7" y="293.6"/><use href="#md" x="972.4" y="282.6"/><use href="#md" x="976.2" y="287.9"/><use href="#md" x="979.9" y="287.8"/><use href="#md" x="983.7" y="292.7"/><use href="#md" x="987.4" y="286.8"/><use href="#md" x="991.2" y="271.3"/><use href="#md" x="995" y="293.2"/><use href="#md" x="998.7" y="278.1"/><use href="#md" x="1002.5" y="275.3"/><use href="#md" x="1006.2" y="297.8"/><use href="#md" x="1010" y="271.3"/><use href="#md" x="1013.7" y="278.4"/><use href="#md" x="1017.5" y="281.5"/><use href="#md" x="1021.2" y="281.4"/><use href="#md" x="1025" y="285"/><use href="#md" x="1028.8" y="284.1"/><use href="#md" x="1032.5" y="287.2"/><use href="#md" x="1036.3" y="292.1"/><use href="#md" x="1040" y="271.3"/><use href="#md" x="1043.8" y="281.4"/><use href="#md" x="1047.5" y="294.1"/><use href="#md" x="1051.3" y="279.2"/><use href="#md" x="1055.1" y="275.3"/><use href="#md" x="1058.8" y="286.3"/><use href="#md" x="1062.6" y="276.6"/><use href="#md" x="1066.3" y="289.9"/><use href="#md" x="1070.1" y="271.3"/><use href="#md" x="1073.8" y="302.4"/><use href="#md" x="1077.6" y="286.3"/><use href="#md" x="1081.4" y="288.7"/><use href="#md" x="1085.1" y="291.6"/><use href="#md" x="1088.9" y="283.7"/><use href="#md" x="1092.6" y="288.3"/><use href="#md" x="1096.4" y="285"/><use href="#md" x="1100.1" y="282.3"/><use href="#md" x="1103.9" y="289.6"/><use href="#md" x="1107.6" y="286.3"/><use href="#md" x="1111.4" y="293.4"/><use href="#md" x="1115.2" y="281.4"/><use href="#md" x="1118.9" y="280.1"/><use href="#md" x="1122.7" y="288.5"/><use href="#md" x="1126.4" y="290.1"/><use href="#md" x="1130.2" y="281.9"/><use href="#md" x="1133.9" y="285.4"/><use href="#md" x="1137.7" y="278.4"/><use href="#md" x="1141.5" y="279.7"/><use href="#md" x="1145.2" y="285.6"/><use href="#md" x="1149" y="285.9"/><use href="#md" x="1152.7" y="297.8"/><use href="#md" x="1156.5" y="282.6"/><use href="#md" x="1160.2" y="285"/><use href="#md" x="1164" y="283.7"/><use href="#md" x="1167.8" y="287"/><use href="#md" x="1171.5" y="280.8"/><use href="#md" x="1175.3" y="297.8"/><use href="#md" x="1179" y="291.6"/><use href="#md" x="1182.8" y="282.1"/><use href="#md" x="1186.5" y="287.9"/><use href="#md" x="1190.3" y="287.6"/><use href="#md" x="1194" y="283"/><use href="#md" x="1197.8" y="277.5"/><use href="#md" x="1201.6" y="286.5"/><use href="#md" x="1205.3" y="286.5"/><use href="#md" x="1209.1" y="281.9"/><use href="#md" x="1212.8" y="277.9"/><use href="#md" x="1216.6" y="278.8"/><use href="#md" x="1220.3" y="275.2"/><use href="#md" x="1224.1" y="292.9"/><use href="#md" x="1227.9" y="283.9"/><use href="#md" x="1231.6" y="287.2"/><use href="#md" x="1235.4" y="287.2"/><use href="#md" x="1239.1" y="288.1"/><use href="#md" x="1242.9" y="282.8"/><use href="#md" x="1246.6" y="279.5"/><use href="#md" x="1250.4" y="281.5"/><use href="#md" x="1254.2" y="292.7"/><use href="#md" x="1257.9" y="285.2"/><use href="#md" x="1261.7" y="271.3"/><use href="#md" x="1265.4" y="286.7"/><use href="#md" x="1269.2" y="288.8"/><use href="#md" x="1272.9" y="287.4"/><use href="#md" x="1276.7" y="282.5"/><use href="#md" x="1280.4" y="288.3"/><use href="#md" x="1284.2" y="290.9"/><use href="#md" x="1288" y="294"/><use href="#md" x="1291.7" y="291.6"/><use href="#md" x="1295.5" y="281.2"/><use href="#md" x="1299.2" y="292.9"/><use href="#md" x="1303" y="287.8"/><use href="#md" x="1306.7" y="266.6"/><use href="#md" x="1310.5" y="278.6"/><use href="#md" x="1314.3" y="278.3"/><use href="#md" x="1318" y="293.4"/><use href="#md" x="1321.8" y="291.4"/><use href="#md" x="1325.5" y="289.2"/><use href="#md" x="1329.3" y="271.3"/><use href="#md" x="1333" y="285"/><use href="#md" x="1336.8" y="276.1"/><use href="#md" x="1340.6" y="286.5"/><use href="#md" x="1344.3" y="302.4"/><use href="#md" x="1348.1" y="284.5"/><use href="#md" x="1351.8" y="276.4"/><use href="#md" x="1355.6" y="286.7"/><use href="#md" x="1359.3" y="281.4"/><use href="#md" x="1363.1" y="292"/><use href="#md" x="1366.8" y="287"/><use href="#md" x="1370.6" y="293.4"/><use href="#md" x="1374.4" y="284.3"/><use href="#md" x="1378.1" y="281.9"/><use href="#md" x="1381.9" y="290.5"/><use href="#md" x="1385.6" y="284.8"/><use href="#md" x="1389.4" y="281"/><use href="#md" x="1393.1" y="287.9"/><use href="#md" x="1396.9" y="271.3"/><use href="#md" x="1400.7" y="292.7"/><use href="#md" x="1404.4" y="287.2"/><use href="#md" x="1408.2" y="275.3"/><use href="#md" x="1411.9" y="275.5"/><use href="#md" x="1415.7" y="284.6"/><use href="#md" x="1419.4" y="290.9"/><use href="#md" x="1423.2" y="287.8"/><use href="#md" x="1427" y="286.3"/><use href="#md" x="1430.7" y="287.2"/><use href="#md" x="1434.5" y="285.9"/><use href="#md" x="1438.2" y="287.2"/><use href="#md" x="1442" y="277.2"/><use href="#md" x="1445.7" y="293.4"/><use href="#md" x="1449.5" y="277.9"/><use href="#md" x="1453.2" y="286.8"/><use href="#md" x="1457" y="275.3"/><use href="#md" x="1460.8" y="277"/><use href="#md" x="1464.5" y="276.6"/><use href="#md" x="1468.3" y="283.9"/><use href="#md" x="1472" y="277.7"/><use href="#md" x="1475.8" y="291.6"/><use href="#md" x="1479.5" y="287.8"/><use href="#md" x="1483.3" y="291.6"/><use href="#md" x="1487.1" y="293.2"/><use href="#md" x="1490.8" y="276.4"/><use href="#md" x="1494.6" y="287"/><use href="#md" x="1498.3" y="289.9"/><use href="#md" x="1502.1" y="277"/><use href="#md" x="1505.8" y="307.3"/><use href="#md" x="1509.6" y="282.5"/><use href="#md" x="1513.4" y="288.5"/><use href="#md" x="1517.1" y="292"/><use href="#md" x="1520.9" y="291.8"/><use href="#md" x="1524.6" y="282.5"/><use href="#md" x="1528.4" y="276.6"/><use href="#md" x="1532.1" y="281.9"/><use href="#md" x="1535.9" y="289.2"/><use href="#md" x="1539.6" y="302.4"/><use href="#md" x="1543.4" y="278.1"/><use href="#md" x="1547.2" y="279.5"/><use href="#md" x="1550.9" y="284.6"/><use href="#md" x="1554.7" y="282.8"/><use href="#md" x="1558.4" y="293"/><use href="#md" x="1562.2" y="291.6"/><use href="#md" x="1565.9" y="275.5"/><use href="#md" x="1569.7" y="293.6"/><use href="#md" x="1573.5" y="278.6"/><use href="#md" x="1577.2" y="290.9"/><use href="#md" x="1581" y="280.1"/><use href="#md" x="1584.7" y="291.2"/><use href="#md" x="1588.5" y="292.3"/><use href="#md" x="1592.2" y="281.4"/><use href="#md" x="1596" y="276.1"/><use href="#md" x="1599.8" y="284.3"/><use href="#md" x="1603.5" y="276.8"/><use href="#md" x="1607.3" y="281.2"/><use href="#md" x="1611" y="277.7"/><use href="#md" x="1614.8" y="283.4"/><use href="#md" x="1618.5" y="277.2"/><use href="#md" x="1622.3" y="281.2"/><use href="#md" x="1626" y="286.3"/><use href="#md" x="1629.8" y="286.3"/><use href="#md" x="1633.6" y="278.1"/><use href="#md" x="1637.3" y="293"/><use href="#md" x="1641.1" y="285"/><use href="#md" x="1644.8" y="292.1"/><use href="#md" x="1648.6" y="278.1"/><use href="#md" x="1652.3" y="283.6"/><use href="#md" x="1656.1" y="278.3"/><use href="#md" x="1659.9" y="286.8"/><use href="#md" x="1663.6" y="285.7"/><use href="#md" x="1667.4" y="283.7"/><use href="#md" x="1671.1" y="282.5"/><use href="#md" x="1674.9" y="289.6"/><use href="#md" x="1678.6" y="293"/><use href="#md" x="1682.4" y="284.5"/><use href="#md" x="1686.2" y="292.1"/><use href="#md" x="1689.9" y="284.5"/><use href="#md" x="1693.7" y="291.6"/><use href="#md" x="1697.4" y="282.5"/><use href="#md" x="1701.2" y="283.9"/><use href="#md" x="1704.9" y="291"/><use href="#md" x="1708.7" y="278.8"/><use href="#md" x="1712.4" y="285"/><use href="#md" x="1716.2" y="276.3"/><use href="#md" x="1720" y="288.3"/><use href="#md" x="1723.7" y="284.6"/><use href="#md" x="1727.5" y="286.7"/><use href="#md" x="1731.2" y="280.6"/><use href="#md" x="1735" y="287.6"/><use href="#md" x="1738.7" y="266.6"/><use href="#md" x="1742.5" y="285.2"/><use href="#md" x="1746.3" y="290.3"/><use href="#md" x="1750" y="275.7"/><use href="#md" x="1753.8" y="288.1"/><use href="#md" x="1757.5" y="277"/><use href="#md" x="1761.3" y="297.8"/><use href="#md" x="1765" y="285.7"/><use href="#md" x="1768.8" y="286.8"/><use href="#md" x="1772.5" y="289.2"/><use href="#md" x="1776.3" y="291.8"/><use href="#md" x="1780.1" y="288.3"/><use href="#md" x="1783.8" y="276.1"/><use href="#md" x="1787.6" y="291"/><use href="#md" x="1791.3" y="284.6"/><use href="#md" x="1795.1" y="285.2"/><use href="#md" x="1798.8" y="287.9"/><use href="#md" x="1802.6" y="293.8"/><use href="#md" x="1806.4" y="279.9"/><use href="#md" x="1810.1" y="284.3"/><use href="#md" x="1813.9" y="282.6"/><use href="#md" x="1817.6" y="285.6"/><use href="#md" x="1821.4" y="276.8"/><use href="#md" x="1825.1" y="284.1"/><use href="#md" x="1828.9" y="281"/><use href="#md" x="1832.7" y="289.8"/><use href="#md" x="1836.4" y="286.3"/><use href="#md" x="1840.2" y="282.3"/><use href="#md" x="1843.9" y="276.4"/><use href="#md" x="1847.7" y="279.5"/><use href="#md" x="1851.4" y="278.4"/><use href="#md" x="1855.2" y="285"/><use href="#md" x="1858.9" y="279.5"/><use href="#md" x="1862.7" y="278.8"/><use href="#md" x="1866.5" y="302.4"/><use href="#md" x="1870.2" y="291.2"/><use href="#md" x="1874" y="279.7"/><use href="#md" x="1877.7" y="275.7"/><use href="#md" x="1881.5" y="279.2"/><use href="#md" x="1885.2" y="281.4"/><use href="#md" x="1889" y="294"/><use href="#md" x="1892.8" y="287.6"/><use href="#md" x="1896.5" y="293.2"/><use href="#md" x="1900.3" y="280.6"/><use href="#md" x="1904" y="282.5"/><use href="#md" x="1907.8" y="276.4"/><use href="#md" x="1911.5" y="292.3"/><use href="#md" x="1915.3" y="302.4"/><use href="#md" x="1919.1" y="266.6"/><use href="#md" x="1922.8" y="277.7"/><use href="#md" x="1926.6" y="291.8"/><use href="#md" x="1930.3" y="286.5"/><use href="#md" x="1934.1" y="275.2"/><use href="#md" x="1937.8" y="287.8"/><use href="#md" x="1941.6" y="283.7"/><use href="#md" x="1945.3" y="291.8"/><use href="#md" x="1949.1" y="276.8"/><use href="#md" x="1952.9" y="276.4"/><use href="#md" x="1956.6" y="286.1"/><use href="#md" x="1960.4" y="292.1"/><use href="#md" x="1964.1" y="287.2"/><use href="#md" x="1967.9" y="281.9"/><use href="#md" x="1971.6" y="276.6"/><use href="#md" x="1975.4" y="284.5"/><use href="#md" x="1979.2" y="286.5"/><use href="#md" x="1982.9" y="291"/><use href="#md" x="1986.7" y="287.8"/><use href="#md" x="1990.4" y="287.8"/><use href="#md" x="1994.2" y="278.3"/><use href="#md" x="1997.9" y="285.6"/><use href="#md" x="2001.7" y="279.4"/><use href="#md" x="2005.5" y="290.9"/><use href="#md" x="2009.2" y="292.9"/><use href="#md" x="2013" y="291"/><use href="#md" x="2016.7" y="291.2"/><use href="#md" x="2020.5" y="276.1"/><use href="#md" x="2024.2" y="285.2"/><use href="#md" x="2028" y="287.9"/><use href="#md" x="2031.7" y="292.9"/><use href="#md" x="2035.5" y="289.6"/><use href="#md" x="2039.3" y="297.8"/><use href="#md" x="2043" y="280.8"/><use href="#md" x="2046.8" y="283.4"/><use href="#md" x="2050.5" y="288.1"/><use href="#md" x="2054.3" y="278.3"/><use href="#md" x="2058" y="287.4"/><use href="#md" x="2061.8" y="278.6"/><use href="#md" x="2065.6" y="302.4"/><use href="#md" x="2069.3" y="276.3"/><use href="#md" x="2073.1" y="284.1"/><use href="#md" x="2076.8" y="277.7"/><use href="#md" x="2080.6" y="275.7"/><use href="#md" x="2084.3" y="302.4"/><use href="#md" x="2088.1" y="293.6"/><use href="#md" x="2091.9" y="289"/><use href="#md" x="2095.6" y="290.7"/><use href="#md" x="2099.4" y="280.6"/><use href="#md" x="2103.1" y="283.7"/><use href="#md" x="2106.9" y="282.8"/><use href="#md" x="2110.6" y="276.1"/><use href="#md" x="2114.4" y="288.1"/><use href="#md" x="2118.1" y="281.7"/><use href="#md" x="2121.9" y="289.4"/><use href="#md" x="2125.7" y="282.6"/><use href="#md" x="2129.4" y="275.2"/><use href="#md" x="2133.2" y="292.7"/><use href="#md" x="2136.9" y="282.3"/><use href="#md" x="2140.7" y="275.7"/><use href="#md" x="2144.4" y="275"/>
</g>
<g shape-rendering="crispEdges" fill="#000"><rect x="175" y="21" width="3" height="1721"/><rect x="2236" y="21" width="4" height="1721"/><rect x="175" y="21" width="2065" height="3"/><rect x="175" y="1739" width="2065" height="3"/></g>
<g font-size="47.5px" stroke="#000" stroke-width="0.6"><text x="258.1" y="1791.6" filter="url(#bin)">0</text><text x="434.9 456.9" y="1791.6" filter="url(#bin)">50</text><text x="611.7 633.7 655.7" y="1791.6" filter="url(#bin)">100</text><text x="799.5 821.5 843.5" y="1791.6" filter="url(#bin)">150</text><text x="987.4 1009.4 1031.4" y="1791.6" filter="url(#bin)">200</text><text x="1175.2 1197.2 1219.2" y="1791.6" filter="url(#bin)">250</text><text x="1363 1385 1407" y="1791.6" filter="url(#bin)">300</text><text x="1550.9 1572.9 1594.9" y="1791.6" filter="url(#bin)">350</text><text x="1738.7 1760.7 1782.7" y="1791.6" filter="url(#bin)">400</text><text x="1926.5 1948.5 1970.5" y="1791.6" filter="url(#bin)">450</text><text x="2114.3 2136.3 2158.3" y="1791.6" filter="url(#bin)">500</text><text x="109.7 131.7" y="1756.8" filter="url(#bin)">10</text><text x="109.7 131.7" y="1574.3" filter="url(#bin)">20</text><text x="109.7 131.7" y="1391.8" filter="url(#bin)">30</text><text x="109.7 131.7" y="1209.2" filter="url(#bin)">40</text><text x="109.7 131.7" y="1026.7" filter="url(#bin)">50</text><text x="109.7 131.7" y="844.1" filter="url(#bin)">60</text><text x="109.7 131.7" y="661.5" filter="url(#bin)">70</text><text x="109.7 131.7" y="479" filter="url(#bin)">80</text><text x="109.7 131.7" y="296.4" filter="url(#bin)">90</text><text x="87.7 109.7 131.7" y="113.9" filter="url(#bin)">100</text></g>
<text x="1206.7" y="1843" font-size="45px" text-anchor="middle" stroke="#000" stroke-width="0.6" filter="url(#bin)">Episode</text>
<text transform="translate(67.5 879.5) rotate(-90)" font-size="45px" text-anchor="middle" stroke="#000" stroke-width="0.6" filter="url(#bin)">Average Cumulative Rewards</text>
<rect x="1334" y="749.9" width="880.2" height="263.2" rx="3.6" ry="3.6" fill="#fff" fill-opacity="0.8"/><rect x="1332.1" y="748" width="884" height="267" rx="5.5" ry="5.5" fill="none" stroke="#ccc" stroke-opacity="0.8" stroke-width="3.8"/>
<path d="M1349 781.7H1438.3" stroke="#008000" stroke-width="5.2" stroke-dasharray="17.9 5.8" fill="none"/><use href="#mo" x="1394.3" y="781.7"/>
<text x="1475.4" y="796.9" font-size="44.7px" stroke="#000" stroke-width="0.6" filter="url(#bin)">Proposed LSTM-DQN-epsilon-greedy</text>
<path d="M1349 845H1438.3" stroke="#0000ff" stroke-width="5.2" stroke-dasharray="17.9 5.8" fill="none"/><use href="#mx" x="1394.3" y="845"/>
<text x="1475.4" y="860.2" font-size="44.7px" stroke="#000" stroke-width="0.6" filter="url(#bin)">LSTM-DQN-softmax</text>
<path d="M1349 908.3H1438.3" stroke="#ff0000" stroke-width="5.2" stroke-dasharray="17.9 5.8" fill="none"/><use href="#mt" x="1394.3" y="908.3"/>
<text x="1475.4" y="923.5" font-size="44.7px" stroke="#000" stroke-width="0.6" filter="url(#bin)">Dense-DQN-epsilon-greedy</text>
<path d="M1349 971.6H1438.3" stroke="#800080" stroke-width="5.2" stroke-dasharray="17.9 5.8" fill="none"/><use href="#md" x="1394.3" y="971.6"/>
<text x="1475.4" y="986.8" font-size="44.7px" stroke="#000" stroke-width="0.6" filter="url(#bin)">Dense-DQN-softmax</text>
</svg></body></html>
